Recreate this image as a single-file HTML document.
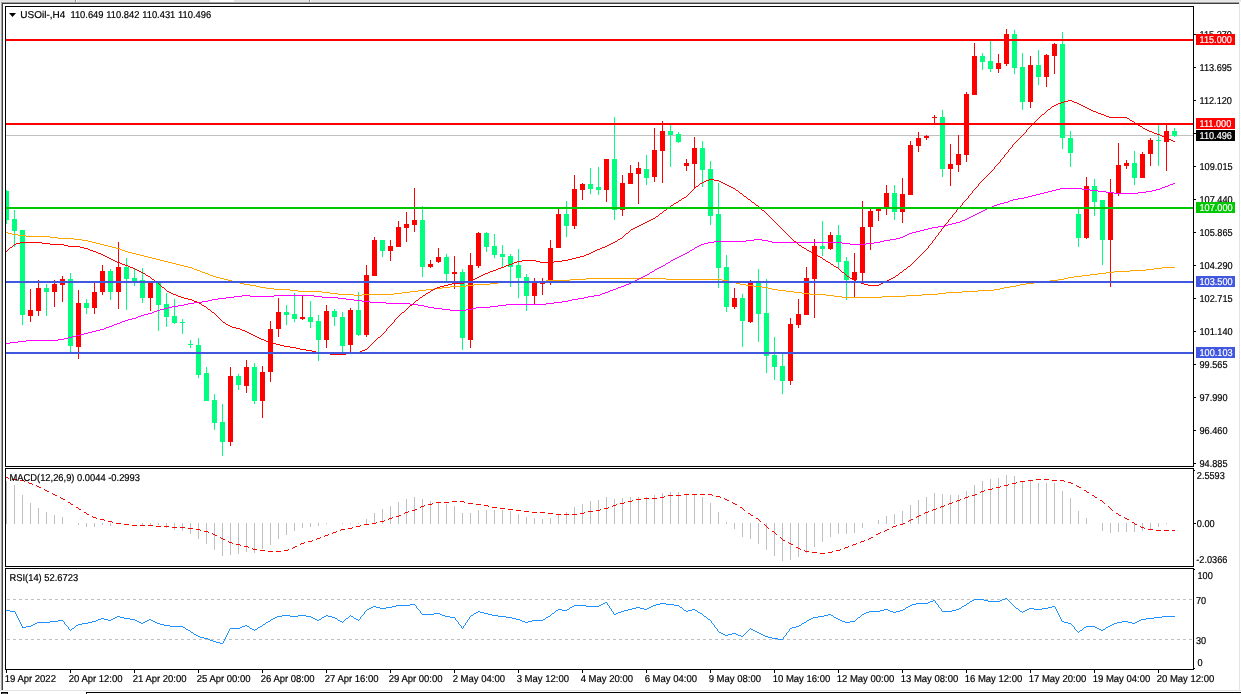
<!DOCTYPE html>
<html><head><meta charset="utf-8"><title>USOil H4</title>
<style>html,body{margin:0;padding:0;background:#fff;width:1241px;height:694px;overflow:hidden}svg{display:block}</style>
</head><body>
<svg width="1241" height="694" viewBox="0 0 1241 694" style="will-change:transform">
<rect x="0" y="0" width="1241" height="694" fill="#ffffff"/>
<rect x="0" y="0" width="1241" height="1" fill="#e3e3e3"/>
<rect x="0" y="1" width="1241" height="1" fill="#e9e9e9"/>
<rect x="210" y="0" width="24" height="1" fill="#ffffff"/>
<rect x="210" y="1" width="24" height="1" fill="#ffffff"/>
<rect x="75" y="0" width="1" height="2" fill="#909090"/>
<rect x="76" y="0" width="1" height="2" fill="#ffffff"/>
<rect x="309" y="0" width="1" height="2" fill="#909090"/>
<rect x="310" y="0" width="1" height="2" fill="#ffffff"/>
<rect x="1" y="2" width="1238" height="1" fill="#a0a0a0"/>
<rect x="2" y="3" width="1237" height="1" fill="#404040"/>
<rect x="0" y="2" width="1" height="688" fill="#f0f0f0"/>
<rect x="1" y="2" width="1" height="688" fill="#a0a0a0"/>
<rect x="2" y="3" width="1" height="687" fill="#404040"/>
<rect x="1239" y="2" width="1" height="688" fill="#e3e3e3"/>
<rect x="0" y="690" width="1241" height="1" fill="#e3e3e3"/>
<rect x="1" y="692" width="7" height="1" fill="#000000"/>
<rect x="1" y="692" width="1" height="2" fill="#000"/>
<rect x="7" y="692" width="1" height="2" fill="#000"/>
<rect x="2" y="693" width="5" height="1" fill="#606060"/>
<rect x="86" y="692" width="1155" height="1" fill="#000000"/>
<rect x="86" y="692" width="1" height="2" fill="#000"/>
<rect x="5" y="6" width="1189" height="1" fill="#000"/>
<rect x="5" y="466" width="1189" height="1" fill="#000"/>
<rect x="5" y="6" width="1" height="461" fill="#000"/>
<rect x="1193" y="6" width="1" height="461" fill="#000"/>
<rect x="5" y="468" width="1189" height="1" fill="#000"/>
<rect x="5" y="566" width="1189" height="1" fill="#000"/>
<rect x="5" y="468" width="1" height="99" fill="#000"/>
<rect x="1193" y="468" width="1" height="99" fill="#000"/>
<rect x="5" y="568" width="1189" height="1" fill="#000"/>
<rect x="5" y="669" width="1189" height="1" fill="#000"/>
<rect x="5" y="568" width="1" height="102" fill="#000"/>
<rect x="1193" y="568" width="1" height="102" fill="#000"/>
<defs><clipPath id="cm"><rect x="6" y="7" width="1187" height="459"/></clipPath><clipPath id="cd"><rect x="6" y="469" width="1187" height="97"/></clipPath><clipPath id="cr"><rect x="6" y="569" width="1187" height="100"/></clipPath></defs>
<g clip-path="url(#cm)" shape-rendering="crispEdges">
<rect x="6" y="135" width="1187" height="1" fill="#c0c0c0"/>
<rect x="6" y="190" width="1" height="34" fill="#00ff7f"/>
<rect x="4" y="191" width="5" height="29" fill="#00ff7f"/>
<rect x="14" y="210" width="1" height="37" fill="#00ff7f"/>
<rect x="12" y="219" width="5" height="12" fill="#00ff7f"/>
<rect x="22" y="230" width="1" height="95" fill="#00ff7f"/>
<rect x="20" y="230" width="5" height="85" fill="#00ff7f"/>
<rect x="30" y="289" width="1" height="33" fill="#ff0000"/>
<rect x="28" y="310" width="5" height="6" fill="#ff0000"/>
<rect x="38" y="280" width="1" height="36" fill="#ff0000"/>
<rect x="36" y="288" width="5" height="23" fill="#ff0000"/>
<rect x="46" y="284" width="1" height="32" fill="#00ff7f"/>
<rect x="44" y="288" width="5" height="4" fill="#00ff7f"/>
<rect x="54" y="280" width="1" height="27" fill="#ff0000"/>
<rect x="52" y="284" width="5" height="8" fill="#ff0000"/>
<rect x="62" y="276" width="1" height="26" fill="#ff0000"/>
<rect x="60" y="279" width="5" height="6" fill="#ff0000"/>
<rect x="70" y="273" width="1" height="79" fill="#00ff7f"/>
<rect x="68" y="279" width="5" height="67" fill="#00ff7f"/>
<rect x="78" y="290" width="1" height="69" fill="#ff0000"/>
<rect x="76" y="303" width="5" height="44" fill="#ff0000"/>
<rect x="86" y="299" width="1" height="15" fill="#00ff7f"/>
<rect x="84" y="303" width="5" height="5" fill="#00ff7f"/>
<rect x="94" y="283" width="1" height="31" fill="#ff0000"/>
<rect x="92" y="292" width="5" height="16" fill="#ff0000"/>
<rect x="102" y="265" width="1" height="30" fill="#ff0000"/>
<rect x="100" y="271" width="5" height="21" fill="#ff0000"/>
<rect x="110" y="269" width="1" height="31" fill="#00ff7f"/>
<rect x="108" y="271" width="5" height="21" fill="#00ff7f"/>
<rect x="118" y="242" width="1" height="67" fill="#ff0000"/>
<rect x="116" y="267" width="5" height="25" fill="#ff0000"/>
<rect x="126" y="258" width="1" height="52" fill="#00ff7f"/>
<rect x="124" y="267" width="5" height="12" fill="#00ff7f"/>
<rect x="134" y="268" width="1" height="18" fill="#00ff7f"/>
<rect x="132" y="278" width="5" height="3" fill="#00ff7f"/>
<rect x="142" y="268" width="1" height="35" fill="#00ff7f"/>
<rect x="140" y="280" width="5" height="18" fill="#00ff7f"/>
<rect x="150" y="283" width="1" height="28" fill="#ff0000"/>
<rect x="148" y="283" width="5" height="15" fill="#ff0000"/>
<rect x="158" y="283" width="1" height="48" fill="#00ff7f"/>
<rect x="156" y="283" width="5" height="22" fill="#00ff7f"/>
<rect x="166" y="293" width="1" height="34" fill="#00ff7f"/>
<rect x="164" y="304" width="5" height="13" fill="#00ff7f"/>
<rect x="174" y="299" width="1" height="25" fill="#00ff7f"/>
<rect x="172" y="316" width="5" height="7" fill="#00ff7f"/>
<rect x="182" y="319" width="1" height="15" fill="#00ff7f"/>
<rect x="180" y="322" width="5" height="1" fill="#00ff7f"/>
<rect x="190" y="340" width="1" height="8" fill="#00ff7f"/>
<rect x="188" y="344" width="5" height="1" fill="#00ff7f"/>
<rect x="198" y="338" width="1" height="40" fill="#00ff7f"/>
<rect x="196" y="345" width="5" height="30" fill="#00ff7f"/>
<rect x="206" y="367" width="1" height="34" fill="#00ff7f"/>
<rect x="204" y="373" width="5" height="28" fill="#00ff7f"/>
<rect x="214" y="394" width="1" height="36" fill="#00ff7f"/>
<rect x="212" y="400" width="5" height="23" fill="#00ff7f"/>
<rect x="222" y="404" width="1" height="52" fill="#00ff7f"/>
<rect x="220" y="422" width="5" height="20" fill="#00ff7f"/>
<rect x="230" y="367" width="1" height="79" fill="#ff0000"/>
<rect x="228" y="376" width="5" height="66" fill="#ff0000"/>
<rect x="238" y="374" width="1" height="16" fill="#00ff7f"/>
<rect x="236" y="376" width="5" height="9" fill="#00ff7f"/>
<rect x="246" y="360" width="1" height="33" fill="#ff0000"/>
<rect x="244" y="367" width="5" height="19" fill="#ff0000"/>
<rect x="254" y="363" width="1" height="41" fill="#00ff7f"/>
<rect x="252" y="367" width="5" height="34" fill="#00ff7f"/>
<rect x="262" y="366" width="1" height="52" fill="#ff0000"/>
<rect x="260" y="372" width="5" height="29" fill="#ff0000"/>
<rect x="270" y="321" width="1" height="61" fill="#ff0000"/>
<rect x="268" y="329" width="5" height="43" fill="#ff0000"/>
<rect x="278" y="298" width="1" height="39" fill="#ff0000"/>
<rect x="276" y="312" width="5" height="17" fill="#ff0000"/>
<rect x="286" y="305" width="1" height="20" fill="#00ff7f"/>
<rect x="284" y="312" width="5" height="3" fill="#00ff7f"/>
<rect x="294" y="293" width="1" height="29" fill="#00ff7f"/>
<rect x="292" y="314" width="5" height="5" fill="#00ff7f"/>
<rect x="302" y="296" width="1" height="24" fill="#ff0000"/>
<rect x="300" y="317" width="5" height="2" fill="#ff0000"/>
<rect x="310" y="301" width="1" height="27" fill="#00ff7f"/>
<rect x="308" y="317" width="5" height="5" fill="#00ff7f"/>
<rect x="318" y="315" width="1" height="46" fill="#00ff7f"/>
<rect x="316" y="321" width="5" height="19" fill="#00ff7f"/>
<rect x="326" y="305" width="1" height="43" fill="#ff0000"/>
<rect x="324" y="311" width="5" height="29" fill="#ff0000"/>
<rect x="334" y="309" width="1" height="17" fill="#00ff7f"/>
<rect x="332" y="311" width="5" height="6" fill="#00ff7f"/>
<rect x="342" y="312" width="1" height="42" fill="#00ff7f"/>
<rect x="340" y="317" width="5" height="29" fill="#00ff7f"/>
<rect x="350" y="308" width="1" height="44" fill="#ff0000"/>
<rect x="348" y="310" width="5" height="35" fill="#ff0000"/>
<rect x="358" y="292" width="1" height="44" fill="#00ff7f"/>
<rect x="356" y="310" width="5" height="25" fill="#00ff7f"/>
<rect x="366" y="265" width="1" height="72" fill="#ff0000"/>
<rect x="364" y="275" width="5" height="60" fill="#ff0000"/>
<rect x="374" y="237" width="1" height="39" fill="#ff0000"/>
<rect x="372" y="240" width="5" height="36" fill="#ff0000"/>
<rect x="382" y="240" width="1" height="17" fill="#00ff7f"/>
<rect x="380" y="240" width="5" height="11" fill="#00ff7f"/>
<rect x="390" y="240" width="1" height="21" fill="#ff0000"/>
<rect x="388" y="246" width="5" height="5" fill="#ff0000"/>
<rect x="398" y="221" width="1" height="26" fill="#ff0000"/>
<rect x="396" y="227" width="5" height="20" fill="#ff0000"/>
<rect x="406" y="212" width="1" height="30" fill="#ff0000"/>
<rect x="404" y="224" width="5" height="4" fill="#ff0000"/>
<rect x="414" y="188" width="1" height="44" fill="#ff0000"/>
<rect x="412" y="220" width="5" height="5" fill="#ff0000"/>
<rect x="422" y="206" width="1" height="71" fill="#00ff7f"/>
<rect x="420" y="220" width="5" height="47" fill="#00ff7f"/>
<rect x="430" y="260" width="1" height="8" fill="#ff0000"/>
<rect x="428" y="264" width="5" height="3" fill="#ff0000"/>
<rect x="438" y="248" width="1" height="15" fill="#ff0000"/>
<rect x="436" y="257" width="5" height="5" fill="#ff0000"/>
<rect x="446" y="254" width="1" height="27" fill="#00ff7f"/>
<rect x="444" y="257" width="5" height="17" fill="#00ff7f"/>
<rect x="454" y="256" width="1" height="33" fill="#ff0000"/>
<rect x="452" y="272" width="5" height="2" fill="#ff0000"/>
<rect x="462" y="269" width="1" height="81" fill="#00ff7f"/>
<rect x="460" y="272" width="5" height="66" fill="#00ff7f"/>
<rect x="470" y="253" width="1" height="95" fill="#ff0000"/>
<rect x="468" y="265" width="5" height="75" fill="#ff0000"/>
<rect x="478" y="232" width="1" height="36" fill="#ff0000"/>
<rect x="476" y="233" width="5" height="33" fill="#ff0000"/>
<rect x="486" y="232" width="1" height="20" fill="#00ff7f"/>
<rect x="484" y="233" width="5" height="14" fill="#00ff7f"/>
<rect x="494" y="234" width="1" height="24" fill="#00ff7f"/>
<rect x="492" y="246" width="5" height="9" fill="#00ff7f"/>
<rect x="502" y="245" width="1" height="23" fill="#00ff7f"/>
<rect x="500" y="254" width="5" height="3" fill="#00ff7f"/>
<rect x="510" y="254" width="1" height="33" fill="#00ff7f"/>
<rect x="508" y="256" width="5" height="11" fill="#00ff7f"/>
<rect x="518" y="249" width="1" height="49" fill="#00ff7f"/>
<rect x="516" y="265" width="5" height="13" fill="#00ff7f"/>
<rect x="526" y="274" width="1" height="37" fill="#00ff7f"/>
<rect x="524" y="277" width="5" height="19" fill="#00ff7f"/>
<rect x="534" y="278" width="1" height="26" fill="#ff0000"/>
<rect x="532" y="282" width="5" height="14" fill="#ff0000"/>
<rect x="542" y="278" width="1" height="17" fill="#ff0000"/>
<rect x="540" y="283" width="5" height="1" fill="#ff0000"/>
<rect x="550" y="240" width="1" height="45" fill="#ff0000"/>
<rect x="548" y="248" width="5" height="33" fill="#ff0000"/>
<rect x="558" y="209" width="1" height="39" fill="#ff0000"/>
<rect x="556" y="214" width="5" height="34" fill="#ff0000"/>
<rect x="566" y="201" width="1" height="36" fill="#00ff7f"/>
<rect x="564" y="214" width="5" height="12" fill="#00ff7f"/>
<rect x="574" y="175" width="1" height="54" fill="#ff0000"/>
<rect x="572" y="189" width="5" height="37" fill="#ff0000"/>
<rect x="582" y="183" width="1" height="17" fill="#ff0000"/>
<rect x="580" y="184" width="5" height="6" fill="#ff0000"/>
<rect x="590" y="168" width="1" height="26" fill="#00ff7f"/>
<rect x="588" y="184" width="5" height="5" fill="#00ff7f"/>
<rect x="598" y="167" width="1" height="28" fill="#00ff7f"/>
<rect x="596" y="187" width="5" height="3" fill="#00ff7f"/>
<rect x="606" y="159" width="1" height="43" fill="#ff0000"/>
<rect x="604" y="159" width="5" height="31" fill="#ff0000"/>
<rect x="614" y="117" width="1" height="103" fill="#00ff7f"/>
<rect x="612" y="159" width="5" height="51" fill="#00ff7f"/>
<rect x="622" y="175" width="1" height="41" fill="#ff0000"/>
<rect x="620" y="183" width="5" height="27" fill="#ff0000"/>
<rect x="630" y="165" width="1" height="19" fill="#ff0000"/>
<rect x="628" y="173" width="5" height="11" fill="#ff0000"/>
<rect x="638" y="162" width="1" height="42" fill="#ff0000"/>
<rect x="636" y="168" width="5" height="6" fill="#ff0000"/>
<rect x="646" y="155" width="1" height="30" fill="#00ff7f"/>
<rect x="644" y="169" width="5" height="9" fill="#00ff7f"/>
<rect x="654" y="128" width="1" height="54" fill="#ff0000"/>
<rect x="652" y="150" width="5" height="27" fill="#ff0000"/>
<rect x="662" y="121" width="1" height="62" fill="#ff0000"/>
<rect x="660" y="131" width="5" height="20" fill="#ff0000"/>
<rect x="670" y="125" width="1" height="42" fill="#00ff7f"/>
<rect x="668" y="131" width="5" height="4" fill="#00ff7f"/>
<rect x="678" y="132" width="1" height="11" fill="#00ff7f"/>
<rect x="676" y="134" width="5" height="8" fill="#00ff7f"/>
<rect x="686" y="159" width="1" height="12" fill="#ff0000"/>
<rect x="684" y="163" width="5" height="3" fill="#ff0000"/>
<rect x="694" y="137" width="1" height="52" fill="#ff0000"/>
<rect x="692" y="148" width="5" height="16" fill="#ff0000"/>
<rect x="702" y="141" width="1" height="46" fill="#00ff7f"/>
<rect x="700" y="148" width="5" height="22" fill="#00ff7f"/>
<rect x="710" y="161" width="1" height="64" fill="#00ff7f"/>
<rect x="708" y="169" width="5" height="47" fill="#00ff7f"/>
<rect x="718" y="183" width="1" height="105" fill="#00ff7f"/>
<rect x="716" y="214" width="5" height="54" fill="#00ff7f"/>
<rect x="726" y="255" width="1" height="57" fill="#00ff7f"/>
<rect x="724" y="267" width="5" height="40" fill="#00ff7f"/>
<rect x="734" y="288" width="1" height="21" fill="#ff0000"/>
<rect x="732" y="298" width="5" height="9" fill="#ff0000"/>
<rect x="742" y="294" width="1" height="53" fill="#00ff7f"/>
<rect x="740" y="298" width="5" height="23" fill="#00ff7f"/>
<rect x="750" y="280" width="1" height="43" fill="#ff0000"/>
<rect x="748" y="282" width="5" height="40" fill="#ff0000"/>
<rect x="758" y="269" width="1" height="73" fill="#00ff7f"/>
<rect x="756" y="282" width="5" height="32" fill="#00ff7f"/>
<rect x="766" y="279" width="1" height="94" fill="#00ff7f"/>
<rect x="764" y="313" width="5" height="43" fill="#00ff7f"/>
<rect x="774" y="337" width="1" height="43" fill="#00ff7f"/>
<rect x="772" y="355" width="5" height="12" fill="#00ff7f"/>
<rect x="782" y="354" width="1" height="40" fill="#00ff7f"/>
<rect x="780" y="366" width="5" height="15" fill="#00ff7f"/>
<rect x="790" y="318" width="1" height="67" fill="#ff0000"/>
<rect x="788" y="324" width="5" height="57" fill="#ff0000"/>
<rect x="798" y="299" width="1" height="29" fill="#ff0000"/>
<rect x="796" y="314" width="5" height="11" fill="#ff0000"/>
<rect x="806" y="267" width="1" height="48" fill="#ff0000"/>
<rect x="804" y="278" width="5" height="37" fill="#ff0000"/>
<rect x="814" y="239" width="1" height="79" fill="#ff0000"/>
<rect x="812" y="246" width="5" height="33" fill="#ff0000"/>
<rect x="822" y="221" width="1" height="35" fill="#00ff7f"/>
<rect x="820" y="246" width="5" height="3" fill="#00ff7f"/>
<rect x="830" y="232" width="1" height="18" fill="#ff0000"/>
<rect x="828" y="235" width="5" height="14" fill="#ff0000"/>
<rect x="838" y="225" width="1" height="43" fill="#00ff7f"/>
<rect x="836" y="235" width="5" height="27" fill="#00ff7f"/>
<rect x="846" y="257" width="1" height="43" fill="#00ff7f"/>
<rect x="844" y="261" width="5" height="19" fill="#00ff7f"/>
<rect x="854" y="253" width="1" height="44" fill="#ff0000"/>
<rect x="852" y="272" width="5" height="8" fill="#ff0000"/>
<rect x="862" y="201" width="1" height="80" fill="#ff0000"/>
<rect x="860" y="227" width="5" height="46" fill="#ff0000"/>
<rect x="870" y="209" width="1" height="41" fill="#ff0000"/>
<rect x="868" y="211" width="5" height="16" fill="#ff0000"/>
<rect x="878" y="209" width="1" height="12" fill="#ff0000"/>
<rect x="876" y="209" width="5" height="2" fill="#ff0000"/>
<rect x="886" y="185" width="1" height="30" fill="#ff0000"/>
<rect x="884" y="193" width="5" height="14" fill="#ff0000"/>
<rect x="894" y="185" width="1" height="35" fill="#00ff7f"/>
<rect x="892" y="193" width="5" height="19" fill="#00ff7f"/>
<rect x="902" y="178" width="1" height="45" fill="#ff0000"/>
<rect x="900" y="194" width="5" height="18" fill="#ff0000"/>
<rect x="910" y="141" width="1" height="54" fill="#ff0000"/>
<rect x="908" y="145" width="5" height="50" fill="#ff0000"/>
<rect x="918" y="132" width="1" height="20" fill="#ff0000"/>
<rect x="916" y="138" width="5" height="8" fill="#ff0000"/>
<rect x="926" y="135" width="1" height="5" fill="#ff0000"/>
<rect x="924" y="136" width="5" height="2" fill="#ff0000"/>
<rect x="934" y="115" width="1" height="8" fill="#ff0000"/>
<rect x="932" y="117" width="5" height="1" fill="#ff0000"/>
<rect x="942" y="110" width="1" height="67" fill="#00ff7f"/>
<rect x="940" y="117" width="5" height="52" fill="#00ff7f"/>
<rect x="950" y="144" width="1" height="42" fill="#ff0000"/>
<rect x="948" y="164" width="5" height="5" fill="#ff0000"/>
<rect x="958" y="135" width="1" height="37" fill="#ff0000"/>
<rect x="956" y="154" width="5" height="11" fill="#ff0000"/>
<rect x="966" y="92" width="1" height="70" fill="#ff0000"/>
<rect x="964" y="94" width="5" height="61" fill="#ff0000"/>
<rect x="974" y="43" width="1" height="52" fill="#ff0000"/>
<rect x="972" y="56" width="5" height="39" fill="#ff0000"/>
<rect x="982" y="53" width="1" height="17" fill="#00ff7f"/>
<rect x="980" y="56" width="5" height="6" fill="#00ff7f"/>
<rect x="990" y="41" width="1" height="31" fill="#00ff7f"/>
<rect x="988" y="61" width="5" height="8" fill="#00ff7f"/>
<rect x="998" y="54" width="1" height="19" fill="#ff0000"/>
<rect x="996" y="63" width="5" height="6" fill="#ff0000"/>
<rect x="1006" y="29" width="1" height="37" fill="#ff0000"/>
<rect x="1004" y="34" width="5" height="30" fill="#ff0000"/>
<rect x="1014" y="30" width="1" height="44" fill="#00ff7f"/>
<rect x="1012" y="34" width="5" height="34" fill="#00ff7f"/>
<rect x="1022" y="53" width="1" height="57" fill="#00ff7f"/>
<rect x="1020" y="67" width="5" height="35" fill="#00ff7f"/>
<rect x="1030" y="56" width="1" height="52" fill="#ff0000"/>
<rect x="1028" y="65" width="5" height="37" fill="#ff0000"/>
<rect x="1038" y="50" width="1" height="35" fill="#00ff7f"/>
<rect x="1036" y="65" width="5" height="12" fill="#00ff7f"/>
<rect x="1046" y="54" width="1" height="33" fill="#ff0000"/>
<rect x="1044" y="55" width="5" height="22" fill="#ff0000"/>
<rect x="1054" y="43" width="1" height="31" fill="#ff0000"/>
<rect x="1052" y="44" width="5" height="12" fill="#ff0000"/>
<rect x="1062" y="32" width="1" height="117" fill="#00ff7f"/>
<rect x="1060" y="44" width="5" height="94" fill="#00ff7f"/>
<rect x="1070" y="131" width="1" height="36" fill="#00ff7f"/>
<rect x="1068" y="138" width="5" height="15" fill="#00ff7f"/>
<rect x="1078" y="209" width="1" height="38" fill="#00ff7f"/>
<rect x="1076" y="214" width="5" height="24" fill="#00ff7f"/>
<rect x="1086" y="177" width="1" height="62" fill="#ff0000"/>
<rect x="1084" y="186" width="5" height="52" fill="#ff0000"/>
<rect x="1094" y="179" width="1" height="37" fill="#00ff7f"/>
<rect x="1092" y="186" width="5" height="16" fill="#00ff7f"/>
<rect x="1102" y="200" width="1" height="65" fill="#00ff7f"/>
<rect x="1100" y="200" width="5" height="40" fill="#00ff7f"/>
<rect x="1110" y="179" width="1" height="108" fill="#ff0000"/>
<rect x="1108" y="193" width="5" height="47" fill="#ff0000"/>
<rect x="1118" y="143" width="1" height="53" fill="#ff0000"/>
<rect x="1116" y="165" width="5" height="29" fill="#ff0000"/>
<rect x="1126" y="160" width="1" height="9" fill="#ff0000"/>
<rect x="1124" y="163" width="5" height="3" fill="#ff0000"/>
<rect x="1134" y="151" width="1" height="34" fill="#00ff7f"/>
<rect x="1132" y="163" width="5" height="15" fill="#00ff7f"/>
<rect x="1142" y="152" width="1" height="26" fill="#ff0000"/>
<rect x="1140" y="154" width="5" height="24" fill="#ff0000"/>
<rect x="1150" y="138" width="1" height="28" fill="#ff0000"/>
<rect x="1148" y="140" width="5" height="14" fill="#ff0000"/>
<rect x="1158" y="125" width="1" height="41" fill="#00ff7f"/>
<rect x="1156" y="140" width="5" height="1" fill="#00ff7f"/>
<rect x="1166" y="125" width="1" height="46" fill="#ff0000"/>
<rect x="1164" y="131" width="5" height="11" fill="#ff0000"/>
<rect x="1174" y="128" width="1" height="9" fill="#00ff7f"/>
<rect x="1172" y="131" width="5" height="5" fill="#00ff7f"/>
<path d="M6 232h2v1h-2zM8 233h4v1h-4zM12 234h6v1h-6zM18 235h8v1h-8zM26 236h24v1h-24zM50 237h8v1h-8zM58 238h16v1h-16zM74 239h8v1h-8zM82 240h6v1h-6zM88 241h4v1h-4zM92 242h4v1h-4zM96 243h4v1h-4zM100 244h4v1h-4zM104 245h4v1h-4zM108 246h4v1h-4zM112 247h4v1h-4zM116 248h4v1h-4zM120 249h2v1h-2zM122 250h3v1h-3zM125 251h3v1h-3zM128 252h4v1h-4zM132 253h4v1h-4zM136 254h4v1h-4zM140 255h4v1h-4zM144 256h4v1h-4zM148 257h4v1h-4zM152 258h4v1h-4zM156 259h4v1h-4zM160 260h4v1h-4zM164 261h4v1h-4zM168 262h4v1h-4zM172 263h4v1h-4zM176 264h4v1h-4zM180 265h4v1h-4zM184 266h4v1h-4zM188 267h4v1h-4zM1162 267h13v1h-13zM192 268h2v1h-2zM1154 268h8v1h-8zM194 269h3v1h-3zM1146 269h8v1h-8zM197 270h3v1h-3zM1130 270h16v1h-16zM200 271h2v1h-2zM1114 271h16v1h-16zM202 272h3v1h-3zM1106 272h8v1h-8zM205 273h3v1h-3zM1098 273h8v1h-8zM208 274h2v1h-2zM1090 274h8v1h-8zM210 275h3v1h-3zM1082 275h8v1h-8zM213 276h3v1h-3zM1074 276h8v1h-8zM216 277h4v1h-4zM1068 277h6v1h-6zM220 278h4v1h-4zM586 278h80v1h-80zM1064 278h4v1h-4zM224 279h4v1h-4zM570 279h16v1h-16zM666 279h56v1h-56zM1058 279h6v1h-6zM228 280h4v1h-4zM546 280h24v1h-24zM722 280h6v1h-6zM1050 280h8v1h-8zM232 281h4v1h-4zM514 281h32v1h-32zM728 281h4v1h-4zM1042 281h8v1h-8zM236 282h4v1h-4zM498 282h16v1h-16zM732 282h4v1h-4zM1034 282h8v1h-8zM240 283h4v1h-4zM490 283h8v1h-8zM736 283h4v1h-4zM1026 283h8v1h-8zM244 284h6v1h-6zM474 284h16v1h-16zM740 284h6v1h-6zM1020 284h6v1h-6zM250 285h6v1h-6zM466 285h8v1h-8zM746 285h8v1h-8zM1016 285h4v1h-4zM256 286h4v1h-4zM450 286h16v1h-16zM754 286h8v1h-8zM1010 286h6v1h-6zM260 287h6v1h-6zM442 287h8v1h-8zM762 287h6v1h-6zM1004 287h6v1h-6zM266 288h8v1h-8zM434 288h8v1h-8zM768 288h4v1h-4zM1000 288h4v1h-4zM274 289h16v1h-16zM426 289h8v1h-8zM772 289h6v1h-6zM994 289h6v1h-6zM290 290h8v1h-8zM418 290h8v1h-8zM778 290h8v1h-8zM978 290h16v1h-16zM298 291h24v1h-24zM410 291h8v1h-8zM786 291h8v1h-8zM962 291h16v1h-16zM322 292h8v1h-8zM402 292h8v1h-8zM794 292h8v1h-8zM946 292h16v1h-16zM330 293h8v1h-8zM394 293h8v1h-8zM802 293h8v1h-8zM938 293h8v1h-8zM338 294h16v1h-16zM362 294h32v1h-32zM810 294h16v1h-16zM922 294h16v1h-16zM354 295h8v1h-8zM826 295h8v1h-8zM906 295h16v1h-16zM834 296h8v1h-8zM882 296h24v1h-24zM842 297h40v1h-40z" fill="#ffa500"/>
<path d="M1173 183h2v1h-2zM1170 184h3v1h-3zM1168 185h2v1h-2zM1165 186h3v1h-3zM1162 187h3v1h-3zM1060 188h22v1h-22zM1160 188h2v1h-2zM1056 189h4v1h-4zM1082 189h8v1h-8zM1156 189h4v1h-4zM1052 190h4v1h-4zM1090 190h8v1h-8zM1152 190h4v1h-4zM1048 191h4v1h-4zM1098 191h8v1h-8zM1146 191h6v1h-6zM1044 192h4v1h-4zM1106 192h8v1h-8zM1138 192h8v1h-8zM1040 193h4v1h-4zM1114 193h24v1h-24zM1036 194h4v1h-4zM1032 195h4v1h-4zM1028 196h4v1h-4zM1024 197h4v1h-4zM1018 198h6v1h-6zM1013 199h5v1h-5zM1010 200h3v1h-3zM1008 201h2v1h-2zM1004 202h4v1h-4zM1000 203h4v1h-4zM997 204h3v1h-3zM994 205h3v1h-3zM992 206h2v1h-2zM989 207h3v1h-3zM987 208h2v1h-2zM985 209h2v1h-2zM983 210h2v1h-2zM981 211h2v1h-2zM979 212h2v1h-2zM977 213h2v1h-2zM975 214h2v1h-2zM973 215h2v1h-2zM971 216h2v1h-2zM969 217h2v1h-2zM967 218h2v1h-2zM965 219h2v1h-2zM962 220h3v1h-3zM960 221h2v1h-2zM956 222h4v1h-4zM952 223h4v1h-4zM948 224h4v1h-4zM944 225h4v1h-4zM938 226h6v1h-6zM932 227h6v1h-6zM928 228h4v1h-4zM924 229h4v1h-4zM920 230h4v1h-4zM916 231h4v1h-4zM912 232h4v1h-4zM909 233h3v1h-3zM907 234h2v1h-2zM905 235h2v1h-2zM903 236h2v1h-2zM900 237h3v1h-3zM896 238h4v1h-4zM754 239h8v1h-8zM890 239h6v1h-6zM746 240h8v1h-8zM762 240h6v1h-6zM884 240h6v1h-6zM714 241h32v1h-32zM768 241h4v1h-4zM880 241h4v1h-4zM708 242h6v1h-6zM772 242h70v1h-70zM874 242h6v1h-6zM704 243h4v1h-4zM842 243h8v1h-8zM866 243h8v1h-8zM701 244h3v1h-3zM850 244h16v1h-16zM699 245h2v1h-2zM697 246h2v1h-2zM695 247h2v1h-2zM694 248h1v1h-1zM692 249h2v1h-2zM690 250h2v1h-2zM689 251h1v1h-1zM687 252h2v1h-2zM685 253h2v1h-2zM683 254h2v1h-2zM681 255h2v1h-2zM679 256h2v1h-2zM677 257h2v1h-2zM675 258h2v1h-2zM673 259h2v1h-2zM671 260h2v1h-2zM670 261h1v1h-1zM668 262h2v1h-2zM666 263h2v1h-2zM665 264h1v1h-1zM663 265h2v1h-2zM661 266h2v1h-2zM659 267h2v1h-2zM657 268h2v1h-2zM655 269h2v1h-2zM654 270h1v1h-1zM652 271h2v1h-2zM650 272h2v1h-2zM649 273h1v1h-1zM647 274h2v1h-2zM645 275h2v1h-2zM643 276h2v1h-2zM641 277h2v1h-2zM639 278h2v1h-2zM637 279h2v1h-2zM635 280h2v1h-2zM633 281h2v1h-2zM631 282h2v1h-2zM629 283h2v1h-2zM626 284h3v1h-3zM624 285h2v1h-2zM621 286h3v1h-3zM618 287h3v1h-3zM616 288h2v1h-2zM613 289h3v1h-3zM610 290h3v1h-3zM608 291h2v1h-2zM605 292h3v1h-3zM602 293h3v1h-3zM600 294h2v1h-2zM242 295h8v1h-8zM274 295h40v1h-40zM594 295h6v1h-6zM234 296h8v1h-8zM250 296h24v1h-24zM314 296h8v1h-8zM588 296h6v1h-6zM226 297h8v1h-8zM322 297h16v1h-16zM584 297h4v1h-4zM218 298h8v1h-8zM338 298h8v1h-8zM578 298h6v1h-6zM212 299h6v1h-6zM346 299h8v1h-8zM572 299h6v1h-6zM208 300h4v1h-4zM354 300h8v1h-8zM568 300h4v1h-4zM202 301h6v1h-6zM362 301h8v1h-8zM562 301h6v1h-6zM194 302h8v1h-8zM370 302h16v1h-16zM554 302h8v1h-8zM188 303h6v1h-6zM386 303h24v1h-24zM546 303h8v1h-8zM184 304h4v1h-4zM410 304h8v1h-8zM506 304h40v1h-40zM178 305h6v1h-6zM418 305h6v1h-6zM498 305h8v1h-8zM172 306h6v1h-6zM424 306h4v1h-4zM490 306h8v1h-8zM168 307h4v1h-4zM428 307h6v1h-6zM476 307h14v1h-14zM164 308h4v1h-4zM434 308h8v1h-8zM472 308h4v1h-4zM160 309h4v1h-4zM442 309h8v1h-8zM466 309h6v1h-6zM157 310h3v1h-3zM450 310h16v1h-16zM154 311h3v1h-3zM152 312h2v1h-2zM148 313h4v1h-4zM144 314h4v1h-4zM141 315h3v1h-3zM138 316h3v1h-3zM136 317h2v1h-2zM132 318h4v1h-4zM128 319h4v1h-4zM125 320h3v1h-3zM122 321h3v1h-3zM120 322h2v1h-2zM117 323h3v1h-3zM114 324h3v1h-3zM112 325h2v1h-2zM109 326h3v1h-3zM106 327h3v1h-3zM104 328h2v1h-2zM100 329h4v1h-4zM96 330h4v1h-4zM92 331h4v1h-4zM88 332h4v1h-4zM84 333h4v1h-4zM80 334h4v1h-4zM76 335h4v1h-4zM72 336h4v1h-4zM68 337h4v1h-4zM64 338h4v1h-4zM58 339h6v1h-6zM26 340h32v1h-32zM18 341h8v1h-8zM10 342h8v1h-8zM6 343h4v1h-4z" fill="#ff00ff"/>
<path d="M1068 100h4v1h-4zM1064 101h4v1h-4zM1072 101h2v1h-2zM1061 102h3v1h-3zM1074 102h3v1h-3zM1058 103h3v1h-3zM1077 103h2v1h-2zM1056 104h2v1h-2zM1079 104h2v1h-2zM1054 105h2v1h-2zM1081 105h2v1h-2zM1052 106h2v1h-2zM1083 106h2v1h-2zM1051 107h1v1h-1zM1085 107h2v1h-2zM1050 108h1v1h-1zM1087 108h2v1h-2zM1048 109h2v1h-2zM1089 109h2v1h-2zM1047 110h1v1h-1zM1091 110h2v1h-2zM1046 111h1v1h-1zM1093 111h3v1h-3zM1045 112h1v1h-1zM1096 112h2v1h-2zM1044 113h1v1h-1zM1098 113h3v1h-3zM1042 114h2v1h-2zM1101 114h3v1h-3zM1041 115h1v1h-1zM1104 115h2v1h-2zM1040 116h1v1h-1zM1106 116h3v1h-3zM1039 117h1v1h-1zM1109 117h18v1h-18zM1038 118h1v1h-1zM1127 118h2v1h-2zM1037 119h1v1h-1zM1129 119h1v1h-1zM1036 120h1v1h-1zM1130 120h2v1h-2zM1035 121h1v1h-1zM1132 121h2v1h-2zM1034 122h1v1h-1zM1134 122h1v1h-1zM1033 123h1v1h-1zM1135 123h2v1h-2zM1032 124h1v1h-1zM1137 124h1v1h-1zM1031 125h1v1h-1zM1138 125h2v1h-2zM1030 126h1v1h-1zM1140 126h2v1h-2zM1029 127h1v1h-1zM1142 127h1v1h-1zM1028 128h1v1h-1zM1143 128h2v1h-2zM1027 129h1v1h-1zM1145 129h2v1h-2zM1026 130h1v1h-1zM1147 130h2v1h-2zM1026 131h1v1h-1zM1149 131h3v1h-3zM1025 132h1v1h-1zM1152 132h2v1h-2zM1024 133h1v1h-1zM1154 133h3v1h-3zM1023 134h1v1h-1zM1157 134h3v1h-3zM1022 135h1v1h-1zM1160 135h2v1h-2zM1021 136h1v1h-1zM1162 136h3v1h-3zM1020 137h1v1h-1zM1165 137h2v1h-2zM1019 138h1v1h-1zM1167 138h2v1h-2zM1018 139h1v1h-1zM1169 139h2v1h-2zM1017 140h1v1h-1zM1171 140h2v1h-2zM1016 141h1v1h-1zM1173 141h2v1h-2zM1015 142h1v1h-1zM1014 143h1v1h-1zM1013 144h1v1h-1zM1012 145h1v1h-1zM1012 146h1v1h-1zM1011 147h1v1h-1zM1010 148h1v1h-1zM1009 149h1v1h-1zM1008 150h1v1h-1zM1008 151h1v1h-1zM1007 152h1v1h-1zM1006 153h1v1h-1zM1005 154h1v1h-1zM1004 155h1v1h-1zM1004 156h1v1h-1zM1003 157h1v1h-1zM1002 158h1v1h-1zM1001 159h1v1h-1zM1000 160h1v1h-1zM1000 161h1v1h-1zM999 162h1v1h-1zM998 163h1v1h-1zM997 164h1v1h-1zM996 165h1v1h-1zM995 166h1v1h-1zM994 167h1v1h-1zM994 168h1v1h-1zM993 169h1v1h-1zM992 170h1v1h-1zM991 171h1v1h-1zM990 172h1v1h-1zM989 173h1v1h-1zM988 174h1v1h-1zM987 175h1v1h-1zM986 176h1v1h-1zM985 177h1v1h-1zM984 178h1v1h-1zM709 179h5v1h-5zM983 179h1v1h-1zM706 180h3v1h-3zM714 180h5v1h-5zM982 180h1v1h-1zM704 181h2v1h-2zM719 181h2v1h-2zM981 181h1v1h-1zM702 182h2v1h-2zM721 182h2v1h-2zM980 182h1v1h-1zM700 183h2v1h-2zM723 183h2v1h-2zM979 183h1v1h-1zM699 184h1v1h-1zM725 184h2v1h-2zM978 184h1v1h-1zM698 185h1v1h-1zM727 185h2v1h-2zM978 185h1v1h-1zM696 186h2v1h-2zM729 186h2v1h-2zM977 186h1v1h-1zM695 187h1v1h-1zM731 187h2v1h-2zM976 187h1v1h-1zM694 188h1v1h-1zM733 188h2v1h-2zM975 188h1v1h-1zM693 189h1v1h-1zM735 189h1v1h-1zM974 189h1v1h-1zM692 190h1v1h-1zM736 190h2v1h-2zM973 190h1v1h-1zM691 191h1v1h-1zM738 191h1v1h-1zM972 191h1v1h-1zM690 192h1v1h-1zM739 192h1v1h-1zM972 192h1v1h-1zM689 193h1v1h-1zM740 193h2v1h-2zM971 193h1v1h-1zM688 194h1v1h-1zM742 194h1v1h-1zM970 194h1v1h-1zM687 195h1v1h-1zM743 195h1v1h-1zM969 195h1v1h-1zM686 196h1v1h-1zM744 196h2v1h-2zM968 196h1v1h-1zM684 197h2v1h-2zM746 197h1v1h-1zM968 197h1v1h-1zM682 198h2v1h-2zM747 198h1v1h-1zM967 198h1v1h-1zM681 199h1v1h-1zM748 199h2v1h-2zM966 199h1v1h-1zM679 200h2v1h-2zM750 200h1v1h-1zM965 200h1v1h-1zM678 201h1v1h-1zM751 201h1v1h-1zM964 201h1v1h-1zM676 202h2v1h-2zM752 202h2v1h-2zM963 202h1v1h-1zM674 203h2v1h-2zM754 203h1v1h-1zM962 203h1v1h-1zM673 204h1v1h-1zM755 204h1v1h-1zM962 204h1v1h-1zM671 205h2v1h-2zM756 205h2v1h-2zM961 205h1v1h-1zM670 206h1v1h-1zM758 206h1v1h-1zM960 206h1v1h-1zM668 207h2v1h-2zM759 207h1v1h-1zM959 207h1v1h-1zM667 208h1v1h-1zM760 208h1v1h-1zM958 208h1v1h-1zM666 209h1v1h-1zM761 209h1v1h-1zM957 209h1v1h-1zM664 210h2v1h-2zM762 210h2v1h-2zM956 210h1v1h-1zM663 211h1v1h-1zM764 211h1v1h-1zM956 211h1v1h-1zM662 212h1v1h-1zM765 212h1v1h-1zM955 212h1v1h-1zM660 213h2v1h-2zM766 213h1v1h-1zM954 213h1v1h-1zM659 214h1v1h-1zM767 214h1v1h-1zM953 214h1v1h-1zM658 215h1v1h-1zM768 215h1v1h-1zM952 215h1v1h-1zM656 216h2v1h-2zM769 216h1v1h-1zM952 216h1v1h-1zM655 217h1v1h-1zM770 217h1v1h-1zM951 217h1v1h-1zM653 218h2v1h-2zM771 218h1v1h-1zM950 218h1v1h-1zM651 219h2v1h-2zM772 219h1v1h-1zM949 219h1v1h-1zM649 220h2v1h-2zM773 220h1v1h-1zM948 220h1v1h-1zM647 221h2v1h-2zM774 221h1v1h-1zM948 221h1v1h-1zM645 222h2v1h-2zM775 222h1v1h-1zM947 222h1v1h-1zM643 223h2v1h-2zM776 223h1v1h-1zM946 223h1v1h-1zM641 224h2v1h-2zM777 224h1v1h-1zM945 224h1v1h-1zM639 225h2v1h-2zM778 225h1v1h-1zM944 225h1v1h-1zM637 226h2v1h-2zM779 226h1v1h-1zM944 226h1v1h-1zM635 227h2v1h-2zM780 227h1v1h-1zM943 227h1v1h-1zM633 228h2v1h-2zM781 228h1v1h-1zM942 228h1v1h-1zM631 229h2v1h-2zM782 229h1v1h-1zM941 229h1v1h-1zM630 230h1v1h-1zM783 230h1v1h-1zM941 230h1v1h-1zM629 231h1v1h-1zM784 231h1v1h-1zM940 231h1v1h-1zM628 232h1v1h-1zM785 232h1v1h-1zM939 232h1v1h-1zM626 233h2v1h-2zM786 233h1v1h-1zM938 233h1v1h-1zM625 234h1v1h-1zM787 234h1v1h-1zM938 234h1v1h-1zM624 235h1v1h-1zM788 235h1v1h-1zM937 235h1v1h-1zM623 236h1v1h-1zM789 236h1v1h-1zM936 236h1v1h-1zM622 237h1v1h-1zM790 237h1v1h-1zM935 237h1v1h-1zM620 238h2v1h-2zM791 238h1v1h-1zM935 238h1v1h-1zM618 239h2v1h-2zM792 239h1v1h-1zM934 239h1v1h-1zM617 240h1v1h-1zM793 240h1v1h-1zM933 240h1v1h-1zM615 241h2v1h-2zM794 241h2v1h-2zM932 241h1v1h-1zM20 242h22v1h-22zM613 242h2v1h-2zM796 242h1v1h-1zM932 242h1v1h-1zM16 243h4v1h-4zM42 243h8v1h-8zM611 243h2v1h-2zM797 243h1v1h-1zM931 243h1v1h-1zM14 244h2v1h-2zM50 244h14v1h-14zM609 244h2v1h-2zM798 244h1v1h-1zM930 244h1v1h-1zM13 245h1v1h-1zM64 245h4v1h-4zM607 245h2v1h-2zM799 245h2v1h-2zM929 245h1v1h-1zM12 246h1v1h-1zM68 246h12v1h-12zM605 246h2v1h-2zM801 246h1v1h-1zM928 246h1v1h-1zM10 247h2v1h-2zM80 247h4v1h-4zM602 247h3v1h-3zM802 247h2v1h-2zM928 247h1v1h-1zM9 248h1v1h-1zM84 248h4v1h-4zM600 248h2v1h-2zM804 248h2v1h-2zM927 248h1v1h-1zM8 249h1v1h-1zM88 249h2v1h-2zM597 249h3v1h-3zM806 249h1v1h-1zM926 249h1v1h-1zM7 250h1v1h-1zM90 250h3v1h-3zM595 250h2v1h-2zM807 250h2v1h-2zM925 250h1v1h-1zM6 251h1v1h-1zM93 251h3v1h-3zM593 251h2v1h-2zM809 251h2v1h-2zM924 251h1v1h-1zM96 252h2v1h-2zM591 252h2v1h-2zM811 252h2v1h-2zM923 252h1v1h-1zM98 253h3v1h-3zM589 253h2v1h-2zM813 253h2v1h-2zM922 253h1v1h-1zM101 254h2v1h-2zM586 254h3v1h-3zM815 254h2v1h-2zM921 254h1v1h-1zM103 255h2v1h-2zM584 255h2v1h-2zM817 255h1v1h-1zM920 255h1v1h-1zM105 256h2v1h-2zM580 256h4v1h-4zM818 256h2v1h-2zM919 256h1v1h-1zM107 257h2v1h-2zM576 257h4v1h-4zM820 257h2v1h-2zM918 257h1v1h-1zM109 258h2v1h-2zM572 258h4v1h-4zM822 258h1v1h-1zM917 258h1v1h-1zM111 259h2v1h-2zM568 259h4v1h-4zM823 259h2v1h-2zM916 259h1v1h-1zM113 260h2v1h-2zM522 260h14v1h-14zM562 260h6v1h-6zM825 260h1v1h-1zM915 260h1v1h-1zM115 261h2v1h-2zM517 261h5v1h-5zM536 261h4v1h-4zM554 261h8v1h-8zM826 261h2v1h-2zM914 261h1v1h-1zM117 262h3v1h-3zM514 262h3v1h-3zM540 262h14v1h-14zM828 262h2v1h-2zM913 262h1v1h-1zM120 263h2v1h-2zM512 263h2v1h-2zM830 263h1v1h-1zM912 263h1v1h-1zM122 264h3v1h-3zM509 264h3v1h-3zM831 264h2v1h-2zM911 264h1v1h-1zM125 265h3v1h-3zM506 265h3v1h-3zM833 265h1v1h-1zM910 265h1v1h-1zM128 266h2v1h-2zM504 266h2v1h-2zM834 266h2v1h-2zM908 266h2v1h-2zM130 267h3v1h-3zM501 267h3v1h-3zM836 267h2v1h-2zM907 267h1v1h-1zM133 268h2v1h-2zM498 268h3v1h-3zM838 268h1v1h-1zM906 268h1v1h-1zM135 269h2v1h-2zM496 269h2v1h-2zM839 269h1v1h-1zM904 269h2v1h-2zM137 270h2v1h-2zM493 270h3v1h-3zM840 270h1v1h-1zM903 270h1v1h-1zM139 271h2v1h-2zM490 271h3v1h-3zM841 271h1v1h-1zM902 271h1v1h-1zM141 272h2v1h-2zM488 272h2v1h-2zM842 272h2v1h-2zM900 272h2v1h-2zM143 273h2v1h-2zM485 273h3v1h-3zM844 273h1v1h-1zM899 273h1v1h-1zM145 274h1v1h-1zM483 274h2v1h-2zM845 274h1v1h-1zM898 274h1v1h-1zM146 275h2v1h-2zM481 275h2v1h-2zM846 275h1v1h-1zM896 275h2v1h-2zM148 276h2v1h-2zM479 276h2v1h-2zM847 276h2v1h-2zM895 276h1v1h-1zM150 277h1v1h-1zM477 277h2v1h-2zM849 277h1v1h-1zM893 277h2v1h-2zM151 278h1v1h-1zM475 278h2v1h-2zM850 278h2v1h-2zM891 278h2v1h-2zM152 279h2v1h-2zM473 279h2v1h-2zM852 279h2v1h-2zM889 279h2v1h-2zM154 280h1v1h-1zM471 280h2v1h-2zM854 280h2v1h-2zM887 280h2v1h-2zM155 281h1v1h-1zM468 281h3v1h-3zM856 281h2v1h-2zM885 281h2v1h-2zM156 282h2v1h-2zM464 282h4v1h-4zM858 282h3v1h-3zM883 282h2v1h-2zM158 283h1v1h-1zM452 283h12v1h-12zM861 283h3v1h-3zM881 283h2v1h-2zM159 284h1v1h-1zM448 284h4v1h-4zM864 284h4v1h-4zM879 284h2v1h-2zM160 285h1v1h-1zM444 285h4v1h-4zM868 285h11v1h-11zM161 286h1v1h-1zM440 286h4v1h-4zM162 287h2v1h-2zM437 287h3v1h-3zM164 288h1v1h-1zM435 288h2v1h-2zM165 289h1v1h-1zM433 289h2v1h-2zM166 290h1v1h-1zM431 290h2v1h-2zM167 291h2v1h-2zM430 291h1v1h-1zM169 292h2v1h-2zM428 292h2v1h-2zM171 293h2v1h-2zM426 293h2v1h-2zM173 294h3v1h-3zM425 294h1v1h-1zM176 295h2v1h-2zM423 295h2v1h-2zM178 296h3v1h-3zM422 296h1v1h-1zM181 297h3v1h-3zM420 297h2v1h-2zM184 298h4v1h-4zM419 298h1v1h-1zM188 299h4v1h-4zM418 299h1v1h-1zM192 300h2v1h-2zM416 300h2v1h-2zM194 301h3v1h-3zM415 301h1v1h-1zM197 302h2v1h-2zM414 302h1v1h-1zM199 303h2v1h-2zM413 303h1v1h-1zM201 304h1v1h-1zM412 304h1v1h-1zM202 305h2v1h-2zM410 305h2v1h-2zM204 306h2v1h-2zM409 306h1v1h-1zM206 307h1v1h-1zM408 307h1v1h-1zM207 308h1v1h-1zM407 308h1v1h-1zM208 309h2v1h-2zM406 309h1v1h-1zM210 310h1v1h-1zM405 310h1v1h-1zM211 311h1v1h-1zM404 311h1v1h-1zM212 312h2v1h-2zM402 312h2v1h-2zM214 313h1v1h-1zM401 313h1v1h-1zM215 314h1v1h-1zM400 314h1v1h-1zM216 315h1v1h-1zM399 315h1v1h-1zM217 316h1v1h-1zM398 316h1v1h-1zM218 317h1v1h-1zM397 317h1v1h-1zM219 318h1v1h-1zM396 318h1v1h-1zM220 319h1v1h-1zM395 319h1v1h-1zM221 320h1v1h-1zM394 320h1v1h-1zM222 321h1v1h-1zM394 321h1v1h-1zM223 322h2v1h-2zM393 322h1v1h-1zM225 323h1v1h-1zM392 323h1v1h-1zM226 324h2v1h-2zM391 324h1v1h-1zM228 325h2v1h-2zM390 325h1v1h-1zM230 326h2v1h-2zM389 326h1v1h-1zM232 327h4v1h-4zM388 327h1v1h-1zM236 328h4v1h-4zM387 328h1v1h-1zM240 329h2v1h-2zM386 329h1v1h-1zM242 330h3v1h-3zM386 330h1v1h-1zM245 331h2v1h-2zM385 331h1v1h-1zM247 332h2v1h-2zM384 332h1v1h-1zM249 333h2v1h-2zM383 333h1v1h-1zM251 334h2v1h-2zM382 334h1v1h-1zM253 335h2v1h-2zM381 335h1v1h-1zM255 336h2v1h-2zM380 336h1v1h-1zM257 337h2v1h-2zM378 337h2v1h-2zM259 338h2v1h-2zM377 338h1v1h-1zM261 339h3v1h-3zM376 339h1v1h-1zM264 340h2v1h-2zM375 340h1v1h-1zM266 341h3v1h-3zM374 341h1v1h-1zM269 342h3v1h-3zM373 342h1v1h-1zM272 343h4v1h-4zM372 343h1v1h-1zM276 344h4v1h-4zM371 344h1v1h-1zM280 345h4v1h-4zM370 345h1v1h-1zM284 346h6v1h-6zM369 346h1v1h-1zM290 347h6v1h-6zM368 347h1v1h-1zM296 348h4v1h-4zM367 348h1v1h-1zM300 349h6v1h-6zM365 349h2v1h-2zM306 350h6v1h-6zM362 350h3v1h-3zM312 351h4v1h-4zM360 351h2v1h-2zM316 352h6v1h-6zM354 352h6v1h-6zM322 353h8v1h-8zM346 353h8v1h-8zM330 354h16v1h-16z" fill="#ff0000"/>
<rect x="6" y="39" width="1187" height="2" fill="#ff0000"/>
<rect x="6" y="123" width="1187" height="2" fill="#ff0000"/>
<rect x="6" y="207" width="1187" height="2" fill="#00c800"/>
<rect x="6" y="281" width="1187" height="2" fill="#4157e0"/>
<rect x="6" y="352" width="1187" height="2" fill="#4157e0"/>
</g>
<g font-family='"Liberation Sans", Arial, sans-serif'>
<rect x="1194" y="34" width="2" height="1" fill="#000"/>
<text transform="matrix(0.915 0 0 1 1199.5 38)" fill="#000" stroke="#000" stroke-width="0.2" font-size="10" text-rendering="geometricPrecision">115.270</text>
<rect x="1194" y="67" width="2" height="1" fill="#000"/>
<text transform="matrix(0.915 0 0 1 1199.5 71)" fill="#000" stroke="#000" stroke-width="0.2" font-size="10" text-rendering="geometricPrecision">113.695</text>
<rect x="1194" y="100" width="2" height="1" fill="#000"/>
<text transform="matrix(0.915 0 0 1 1199.5 104)" fill="#000" stroke="#000" stroke-width="0.2" font-size="10" text-rendering="geometricPrecision">112.120</text>
<rect x="1194" y="133" width="2" height="1" fill="#000"/>
<rect x="1194" y="166" width="2" height="1" fill="#000"/>
<text transform="matrix(0.915 0 0 1 1199.5 170)" fill="#000" stroke="#000" stroke-width="0.2" font-size="10" text-rendering="geometricPrecision">109.015</text>
<rect x="1194" y="199" width="2" height="1" fill="#000"/>
<text transform="matrix(0.915 0 0 1 1199.5 203)" fill="#000" stroke="#000" stroke-width="0.2" font-size="10" text-rendering="geometricPrecision">107.440</text>
<rect x="1194" y="232" width="2" height="1" fill="#000"/>
<text transform="matrix(0.915 0 0 1 1199.5 236)" fill="#000" stroke="#000" stroke-width="0.2" font-size="10" text-rendering="geometricPrecision">105.865</text>
<rect x="1194" y="265" width="2" height="1" fill="#000"/>
<text transform="matrix(0.915 0 0 1 1199.5 269)" fill="#000" stroke="#000" stroke-width="0.2" font-size="10" text-rendering="geometricPrecision">104.290</text>
<rect x="1194" y="298" width="2" height="1" fill="#000"/>
<text transform="matrix(0.915 0 0 1 1199.5 302)" fill="#000" stroke="#000" stroke-width="0.2" font-size="10" text-rendering="geometricPrecision">102.715</text>
<rect x="1194" y="331" width="2" height="1" fill="#000"/>
<text transform="matrix(0.915 0 0 1 1199.5 335)" fill="#000" stroke="#000" stroke-width="0.2" font-size="10" text-rendering="geometricPrecision">101.140</text>
<rect x="1194" y="364" width="2" height="1" fill="#000"/>
<text transform="matrix(0.915 0 0 1 1199.5 368)" fill="#000" stroke="#000" stroke-width="0.2" font-size="10" text-rendering="geometricPrecision">99.565</text>
<rect x="1194" y="397" width="2" height="1" fill="#000"/>
<text transform="matrix(0.915 0 0 1 1199.5 401)" fill="#000" stroke="#000" stroke-width="0.2" font-size="10" text-rendering="geometricPrecision">97.990</text>
<rect x="1194" y="430" width="2" height="1" fill="#000"/>
<text transform="matrix(0.915 0 0 1 1199.5 434)" fill="#000" stroke="#000" stroke-width="0.2" font-size="10" text-rendering="geometricPrecision">96.460</text>
<rect x="1194" y="463" width="2" height="1" fill="#000"/>
<text transform="matrix(0.915 0 0 1 1199.5 467)" fill="#000" stroke="#000" stroke-width="0.2" font-size="10" text-rendering="geometricPrecision">94.885</text>
<rect x="1196" y="34" width="39" height="11" fill="#ff0000"/>
<text transform="matrix(0.915 0 0 1 1199.5 43)" fill="#fff" stroke="#fff" stroke-width="0.2" font-size="10" text-rendering="geometricPrecision">115.000</text>
<rect x="1196" y="118" width="39" height="11" fill="#ff0000"/>
<text transform="matrix(0.915 0 0 1 1199.5 127)" fill="#fff" stroke="#fff" stroke-width="0.2" font-size="10" text-rendering="geometricPrecision">111.000</text>
<rect x="1196" y="130" width="39" height="11" fill="#000"/>
<text transform="matrix(0.915 0 0 1 1199.5 139)" fill="#fff" stroke="#fff" stroke-width="0.2" font-size="10" text-rendering="geometricPrecision">110.496</text>
<rect x="1196" y="202" width="39" height="11" fill="#00c800"/>
<text transform="matrix(0.915 0 0 1 1199.5 211)" fill="#fff" stroke="#fff" stroke-width="0.2" font-size="10" text-rendering="geometricPrecision">107.000</text>
<rect x="1196" y="276" width="39" height="11" fill="#4157e0"/>
<text transform="matrix(0.915 0 0 1 1199.5 285)" fill="#fff" stroke="#fff" stroke-width="0.2" font-size="10" text-rendering="geometricPrecision">103.500</text>
<rect x="1196" y="347" width="39" height="11" fill="#4157e0"/>
<text transform="matrix(0.915 0 0 1 1199.5 356)" fill="#fff" stroke="#fff" stroke-width="0.2" font-size="10" text-rendering="geometricPrecision">100.103</text>
</g>
<g font-family='"Liberation Sans", Arial, sans-serif'>
<polygon points="9,13 16,13 12.5,17" fill="#000"/>
<text transform="matrix(1.0 0 0 1 20.3 17.6)" fill="#000" stroke="#000" stroke-width="0.2" font-size="10" text-rendering="geometricPrecision">USOil-,H4</text>
<text transform="matrix(0.935 0 0 1 70.4 17.6)" fill="#000" stroke="#000" stroke-width="0.2" font-size="10" text-rendering="geometricPrecision">110.649</text>
<text transform="matrix(0.935 0 0 1 106.30000000000001 17.6)" fill="#000" stroke="#000" stroke-width="0.2" font-size="10" text-rendering="geometricPrecision">110.842</text>
<text transform="matrix(0.935 0 0 1 142.2 17.6)" fill="#000" stroke="#000" stroke-width="0.2" font-size="10" text-rendering="geometricPrecision">110.431</text>
<text transform="matrix(0.935 0 0 1 178.1 17.6)" fill="#000" stroke="#000" stroke-width="0.2" font-size="10" text-rendering="geometricPrecision">110.496</text>
</g>
<g clip-path="url(#cd)" shape-rendering="crispEdges">
<rect x="6" y="481" width="1" height="43" fill="#c0c0c0"/>
<rect x="14" y="485" width="1" height="39" fill="#c0c0c0"/>
<rect x="22" y="495" width="1" height="29" fill="#c0c0c0"/>
<rect x="30" y="503" width="1" height="21" fill="#c0c0c0"/>
<rect x="38" y="508" width="1" height="16" fill="#c0c0c0"/>
<rect x="46" y="512" width="1" height="12" fill="#c0c0c0"/>
<rect x="54" y="515" width="1" height="9" fill="#c0c0c0"/>
<rect x="62" y="517" width="1" height="7" fill="#c0c0c0"/>
<rect x="78" y="523" width="1" height="2" fill="#c0c0c0"/>
<rect x="86" y="523" width="1" height="4" fill="#c0c0c0"/>
<rect x="94" y="523" width="1" height="4" fill="#c0c0c0"/>
<rect x="102" y="523" width="1" height="2" fill="#c0c0c0"/>
<rect x="110" y="523" width="1" height="3" fill="#c0c0c0"/>
<rect x="142" y="523" width="1" height="2" fill="#c0c0c0"/>
<rect x="150" y="523" width="1" height="2" fill="#c0c0c0"/>
<rect x="158" y="523" width="1" height="2" fill="#c0c0c0"/>
<rect x="166" y="523" width="1" height="5" fill="#c0c0c0"/>
<rect x="174" y="523" width="1" height="7" fill="#c0c0c0"/>
<rect x="182" y="523" width="1" height="8" fill="#c0c0c0"/>
<rect x="190" y="523" width="1" height="11" fill="#c0c0c0"/>
<rect x="198" y="523" width="1" height="16" fill="#c0c0c0"/>
<rect x="206" y="523" width="1" height="21" fill="#c0c0c0"/>
<rect x="214" y="523" width="1" height="27" fill="#c0c0c0"/>
<rect x="222" y="523" width="1" height="33" fill="#c0c0c0"/>
<rect x="230" y="523" width="1" height="32" fill="#c0c0c0"/>
<rect x="238" y="523" width="1" height="31" fill="#c0c0c0"/>
<rect x="246" y="523" width="1" height="29" fill="#c0c0c0"/>
<rect x="254" y="523" width="1" height="30" fill="#c0c0c0"/>
<rect x="262" y="523" width="1" height="26" fill="#c0c0c0"/>
<rect x="270" y="523" width="1" height="22" fill="#c0c0c0"/>
<rect x="278" y="523" width="1" height="16" fill="#c0c0c0"/>
<rect x="286" y="523" width="1" height="12" fill="#c0c0c0"/>
<rect x="294" y="523" width="1" height="8" fill="#c0c0c0"/>
<rect x="302" y="523" width="1" height="5" fill="#c0c0c0"/>
<rect x="310" y="523" width="1" height="4" fill="#c0c0c0"/>
<rect x="318" y="523" width="1" height="3" fill="#c0c0c0"/>
<rect x="326" y="523" width="1" height="1" fill="#c0c0c0"/>
<rect x="342" y="523" width="1" height="1" fill="#c0c0c0"/>
<rect x="350" y="523" width="1" height="1" fill="#c0c0c0"/>
<rect x="358" y="523" width="1" height="1" fill="#c0c0c0"/>
<rect x="366" y="519" width="1" height="5" fill="#c0c0c0"/>
<rect x="374" y="513" width="1" height="11" fill="#c0c0c0"/>
<rect x="382" y="509" width="1" height="15" fill="#c0c0c0"/>
<rect x="390" y="506" width="1" height="18" fill="#c0c0c0"/>
<rect x="398" y="502" width="1" height="22" fill="#c0c0c0"/>
<rect x="406" y="499" width="1" height="25" fill="#c0c0c0"/>
<rect x="414" y="497" width="1" height="27" fill="#c0c0c0"/>
<rect x="422" y="499" width="1" height="25" fill="#c0c0c0"/>
<rect x="430" y="501" width="1" height="23" fill="#c0c0c0"/>
<rect x="438" y="503" width="1" height="21" fill="#c0c0c0"/>
<rect x="446" y="504" width="1" height="20" fill="#c0c0c0"/>
<rect x="454" y="506" width="1" height="18" fill="#c0c0c0"/>
<rect x="462" y="513" width="1" height="11" fill="#c0c0c0"/>
<rect x="470" y="513" width="1" height="11" fill="#c0c0c0"/>
<rect x="478" y="510" width="1" height="14" fill="#c0c0c0"/>
<rect x="486" y="510" width="1" height="14" fill="#c0c0c0"/>
<rect x="494" y="510" width="1" height="14" fill="#c0c0c0"/>
<rect x="502" y="510" width="1" height="14" fill="#c0c0c0"/>
<rect x="510" y="511" width="1" height="13" fill="#c0c0c0"/>
<rect x="518" y="514" width="1" height="10" fill="#c0c0c0"/>
<rect x="526" y="517" width="1" height="7" fill="#c0c0c0"/>
<rect x="534" y="518" width="1" height="6" fill="#c0c0c0"/>
<rect x="542" y="519" width="1" height="5" fill="#c0c0c0"/>
<rect x="550" y="518" width="1" height="6" fill="#c0c0c0"/>
<rect x="558" y="515" width="1" height="9" fill="#c0c0c0"/>
<rect x="566" y="512" width="1" height="12" fill="#c0c0c0"/>
<rect x="574" y="507" width="1" height="17" fill="#c0c0c0"/>
<rect x="582" y="504" width="1" height="20" fill="#c0c0c0"/>
<rect x="590" y="501" width="1" height="23" fill="#c0c0c0"/>
<rect x="598" y="500" width="1" height="24" fill="#c0c0c0"/>
<rect x="606" y="497" width="1" height="27" fill="#c0c0c0"/>
<rect x="614" y="499" width="1" height="25" fill="#c0c0c0"/>
<rect x="622" y="498" width="1" height="26" fill="#c0c0c0"/>
<rect x="630" y="497" width="1" height="27" fill="#c0c0c0"/>
<rect x="638" y="497" width="1" height="27" fill="#c0c0c0"/>
<rect x="646" y="497" width="1" height="27" fill="#c0c0c0"/>
<rect x="654" y="495" width="1" height="29" fill="#c0c0c0"/>
<rect x="662" y="493" width="1" height="31" fill="#c0c0c0"/>
<rect x="670" y="492" width="1" height="32" fill="#c0c0c0"/>
<rect x="678" y="492" width="1" height="32" fill="#c0c0c0"/>
<rect x="686" y="494" width="1" height="30" fill="#c0c0c0"/>
<rect x="694" y="495" width="1" height="29" fill="#c0c0c0"/>
<rect x="702" y="497" width="1" height="27" fill="#c0c0c0"/>
<rect x="710" y="503" width="1" height="21" fill="#c0c0c0"/>
<rect x="718" y="512" width="1" height="12" fill="#c0c0c0"/>
<rect x="726" y="522" width="1" height="2" fill="#c0c0c0"/>
<rect x="734" y="523" width="1" height="6" fill="#c0c0c0"/>
<rect x="742" y="523" width="1" height="14" fill="#c0c0c0"/>
<rect x="750" y="523" width="1" height="16" fill="#c0c0c0"/>
<rect x="758" y="523" width="1" height="21" fill="#c0c0c0"/>
<rect x="766" y="523" width="1" height="27" fill="#c0c0c0"/>
<rect x="774" y="523" width="1" height="33" fill="#c0c0c0"/>
<rect x="782" y="523" width="1" height="38" fill="#c0c0c0"/>
<rect x="790" y="523" width="1" height="37" fill="#c0c0c0"/>
<rect x="798" y="523" width="1" height="34" fill="#c0c0c0"/>
<rect x="806" y="523" width="1" height="30" fill="#c0c0c0"/>
<rect x="814" y="523" width="1" height="24" fill="#c0c0c0"/>
<rect x="822" y="523" width="1" height="19" fill="#c0c0c0"/>
<rect x="830" y="523" width="1" height="14" fill="#c0c0c0"/>
<rect x="838" y="523" width="1" height="11" fill="#c0c0c0"/>
<rect x="846" y="523" width="1" height="11" fill="#c0c0c0"/>
<rect x="854" y="523" width="1" height="10" fill="#c0c0c0"/>
<rect x="862" y="523" width="1" height="5" fill="#c0c0c0"/>
<rect x="878" y="520" width="1" height="4" fill="#c0c0c0"/>
<rect x="886" y="516" width="1" height="8" fill="#c0c0c0"/>
<rect x="894" y="514" width="1" height="10" fill="#c0c0c0"/>
<rect x="902" y="511" width="1" height="13" fill="#c0c0c0"/>
<rect x="910" y="505" width="1" height="19" fill="#c0c0c0"/>
<rect x="918" y="500" width="1" height="24" fill="#c0c0c0"/>
<rect x="926" y="497" width="1" height="27" fill="#c0c0c0"/>
<rect x="934" y="493" width="1" height="31" fill="#c0c0c0"/>
<rect x="942" y="494" width="1" height="30" fill="#c0c0c0"/>
<rect x="950" y="495" width="1" height="29" fill="#c0c0c0"/>
<rect x="958" y="495" width="1" height="29" fill="#c0c0c0"/>
<rect x="966" y="491" width="1" height="33" fill="#c0c0c0"/>
<rect x="974" y="485" width="1" height="39" fill="#c0c0c0"/>
<rect x="982" y="481" width="1" height="43" fill="#c0c0c0"/>
<rect x="990" y="479" width="1" height="45" fill="#c0c0c0"/>
<rect x="998" y="478" width="1" height="46" fill="#c0c0c0"/>
<rect x="1006" y="475" width="1" height="49" fill="#c0c0c0"/>
<rect x="1014" y="476" width="1" height="48" fill="#c0c0c0"/>
<rect x="1022" y="481" width="1" height="43" fill="#c0c0c0"/>
<rect x="1030" y="481" width="1" height="43" fill="#c0c0c0"/>
<rect x="1038" y="483" width="1" height="41" fill="#c0c0c0"/>
<rect x="1046" y="483" width="1" height="41" fill="#c0c0c0"/>
<rect x="1054" y="483" width="1" height="41" fill="#c0c0c0"/>
<rect x="1062" y="491" width="1" height="33" fill="#c0c0c0"/>
<rect x="1070" y="498" width="1" height="26" fill="#c0c0c0"/>
<rect x="1078" y="511" width="1" height="13" fill="#c0c0c0"/>
<rect x="1086" y="518" width="1" height="6" fill="#c0c0c0"/>
<rect x="1102" y="523" width="1" height="8" fill="#c0c0c0"/>
<rect x="1110" y="523" width="1" height="10" fill="#c0c0c0"/>
<rect x="1118" y="523" width="1" height="9" fill="#c0c0c0"/>
<rect x="1126" y="523" width="1" height="9" fill="#c0c0c0"/>
<rect x="1134" y="523" width="1" height="9" fill="#c0c0c0"/>
<rect x="1142" y="523" width="1" height="8" fill="#c0c0c0"/>
<rect x="1150" y="523" width="1" height="6" fill="#c0c0c0"/>
<rect x="1158" y="523" width="1" height="4" fill="#c0c0c0"/>
<rect x="1166" y="523" width="1" height="1" fill="#c0c0c0"/>
<path d="M6 477h2v1h-2zM8 478h1v1h-1zM12 479h5v1h-5zM1036 479h5v1h-5zM1044 479h5v1h-5zM20 480h4v1h-4zM1028 480h5v1h-5zM1052 480h5v1h-5zM1060 480h4v1h-4zM24 481h1v1h-1zM1020 481h5v1h-5zM1064 481h1v1h-1zM28 482h1v1h-1zM1016 482h1v1h-1zM1068 482h3v1h-3zM29 483h3v1h-3zM1012 483h4v1h-4zM1071 483h2v1h-2zM32 484h1v1h-1zM1008 484h1v1h-1zM36 485h1v1h-1zM1004 485h4v1h-4zM1076 485h1v1h-1zM37 486h2v1h-2zM1000 486h1v1h-1zM1077 486h2v1h-2zM39 487h2v1h-2zM996 487h4v1h-4zM1079 487h2v1h-2zM992 488h1v1h-1zM44 489h1v1h-1zM988 489h4v1h-4zM45 490h2v1h-2zM984 490h1v1h-1zM1084 490h2v1h-2zM47 491h2v1h-2zM981 491h3v1h-3zM1086 491h1v1h-1zM980 492h1v1h-1zM1087 492h2v1h-2zM52 493h1v1h-1zM53 494h2v1h-2zM684 494h5v1h-5zM692 494h5v1h-5zM700 494h5v1h-5zM708 494h4v1h-4zM975 494h2v1h-2zM55 495h2v1h-2zM668 495h5v1h-5zM676 495h5v1h-5zM712 495h1v1h-1zM972 495h3v1h-3zM1092 495h2v1h-2zM664 496h1v1h-1zM716 496h4v1h-4zM968 496h1v1h-1zM1094 496h1v1h-1zM60 497h1v1h-1zM660 497h4v1h-4zM720 497h1v1h-1zM965 497h3v1h-3zM1095 497h2v1h-2zM61 498h2v1h-2zM644 498h5v1h-5zM652 498h5v1h-5zM724 498h1v1h-1zM964 498h1v1h-1zM63 499h2v1h-2zM636 499h5v1h-5zM725 499h2v1h-2zM960 499h1v1h-1zM632 500h1v1h-1zM727 500h2v1h-2zM957 500h3v1h-3zM1100 500h2v1h-2zM452 501h5v1h-5zM460 501h4v1h-4zM628 501h4v1h-4zM956 501h1v1h-1zM1102 501h1v1h-1zM68 502h2v1h-2zM436 502h5v1h-5zM444 502h5v1h-5zM464 502h1v1h-1zM624 502h1v1h-1zM732 502h1v1h-1zM952 502h1v1h-1zM1103 502h1v1h-1zM70 503h1v1h-1zM432 503h1v1h-1zM468 503h5v1h-5zM620 503h4v1h-4zM733 503h2v1h-2zM949 503h3v1h-3zM1104 503h1v1h-1zM71 504h2v1h-2zM428 504h4v1h-4zM476 504h5v1h-5zM616 504h1v1h-1zM735 504h2v1h-2zM948 504h1v1h-1zM424 505h1v1h-1zM484 505h4v1h-4zM613 505h3v1h-3zM944 505h1v1h-1zM421 506h3v1h-3zM488 506h1v1h-1zM612 506h1v1h-1zM941 506h3v1h-3zM1108 506h1v1h-1zM76 507h2v1h-2zM420 507h1v1h-1zM492 507h5v1h-5zM608 507h1v1h-1zM740 507h2v1h-2zM940 507h1v1h-1zM1109 507h1v1h-1zM78 508h1v1h-1zM500 508h5v1h-5zM604 508h4v1h-4zM742 508h1v1h-1zM936 508h1v1h-1zM1110 508h1v1h-1zM79 509h2v1h-2zM415 509h2v1h-2zM508 509h5v1h-5zM600 509h1v1h-1zM743 509h1v1h-1zM933 509h3v1h-3zM1111 509h1v1h-1zM412 510h3v1h-3zM516 510h5v1h-5zM596 510h4v1h-4zM744 510h1v1h-1zM932 510h1v1h-1zM1112 510h1v1h-1zM408 511h1v1h-1zM524 511h5v1h-5zM588 511h5v1h-5zM928 511h1v1h-1zM84 512h2v1h-2zM405 512h3v1h-3zM532 512h5v1h-5zM540 512h5v1h-5zM584 512h1v1h-1zM925 512h3v1h-3zM86 513h1v1h-1zM404 513h1v1h-1zM548 513h5v1h-5zM580 513h4v1h-4zM748 513h2v1h-2zM924 513h1v1h-1zM1116 513h2v1h-2zM87 514h2v1h-2zM556 514h5v1h-5zM564 514h5v1h-5zM572 514h5v1h-5zM750 514h1v1h-1zM1118 514h1v1h-1zM399 515h2v1h-2zM751 515h2v1h-2zM919 515h2v1h-2zM1119 515h2v1h-2zM92 516h1v1h-1zM396 516h3v1h-3zM917 516h2v1h-2zM93 517h3v1h-3zM392 517h1v1h-1zM916 517h1v1h-1zM1124 517h1v1h-1zM96 518h1v1h-1zM389 518h3v1h-3zM756 518h2v1h-2zM1125 518h2v1h-2zM100 519h4v1h-4zM388 519h1v1h-1zM758 519h1v1h-1zM911 519h2v1h-2zM1127 519h2v1h-2zM104 520h1v1h-1zM384 520h1v1h-1zM759 520h1v1h-1zM909 520h2v1h-2zM108 521h4v1h-4zM380 521h4v1h-4zM760 521h1v1h-1zM908 521h1v1h-1zM112 522h1v1h-1zM376 522h1v1h-1zM1132 522h2v1h-2zM116 523h5v1h-5zM372 523h4v1h-4zM903 523h2v1h-2zM1134 523h1v1h-1zM124 524h5v1h-5zM364 524h5v1h-5zM764 524h1v1h-1zM900 524h3v1h-3zM1135 524h2v1h-2zM132 525h5v1h-5zM140 525h5v1h-5zM148 525h5v1h-5zM360 525h1v1h-1zM765 525h1v1h-1zM896 525h1v1h-1zM156 526h5v1h-5zM164 526h5v1h-5zM356 526h4v1h-4zM766 526h1v1h-1zM893 526h3v1h-3zM1140 526h1v1h-1zM172 527h5v1h-5zM180 527h5v1h-5zM352 527h1v1h-1zM767 527h1v1h-1zM892 527h1v1h-1zM1141 527h3v1h-3zM188 528h5v1h-5zM348 528h4v1h-4zM768 528h1v1h-1zM1144 528h1v1h-1zM196 529h4v1h-4zM341 529h4v1h-4zM887 529h2v1h-2zM1148 529h5v1h-5zM200 530h1v1h-1zM340 530h1v1h-1zM885 530h2v1h-2zM1156 530h5v1h-5zM1164 530h5v1h-5zM1172 530h3v1h-3zM204 531h4v1h-4zM336 531h1v1h-1zM772 531h2v1h-2zM884 531h1v1h-1zM208 532h1v1h-1zM333 532h3v1h-3zM774 532h1v1h-1zM880 532h1v1h-1zM212 533h1v1h-1zM332 533h1v1h-1zM775 533h1v1h-1zM878 533h2v1h-2zM213 534h2v1h-2zM328 534h1v1h-1zM776 534h1v1h-1zM876 534h2v1h-2zM215 535h2v1h-2zM325 535h3v1h-3zM324 536h1v1h-1zM220 537h1v1h-1zM320 537h1v1h-1zM780 537h1v1h-1zM871 537h2v1h-2zM221 538h2v1h-2zM317 538h3v1h-3zM781 538h1v1h-1zM869 538h2v1h-2zM223 539h2v1h-2zM316 539h1v1h-1zM782 539h1v1h-1zM868 539h1v1h-1zM312 540h1v1h-1zM783 540h2v1h-2zM864 540h1v1h-1zM228 541h1v1h-1zM308 541h4v1h-4zM861 541h3v1h-3zM229 542h3v1h-3zM304 542h1v1h-1zM788 542h1v1h-1zM860 542h1v1h-1zM232 543h1v1h-1zM301 543h3v1h-3zM789 543h2v1h-2zM856 543h1v1h-1zM236 544h4v1h-4zM300 544h1v1h-1zM791 544h2v1h-2zM853 544h3v1h-3zM240 545h1v1h-1zM852 545h1v1h-1zM244 546h4v1h-4zM295 546h2v1h-2zM848 546h1v1h-1zM248 547h1v1h-1zM293 547h2v1h-2zM796 547h2v1h-2zM845 547h3v1h-3zM252 548h1v1h-1zM292 548h1v1h-1zM798 548h2v1h-2zM844 548h1v1h-1zM253 549h4v1h-4zM288 549h1v1h-1zM800 549h1v1h-1zM840 549h1v1h-1zM260 550h5v1h-5zM284 550h4v1h-4zM804 550h1v1h-1zM836 550h4v1h-4zM268 551h5v1h-5zM276 551h5v1h-5zM805 551h4v1h-4zM832 551h1v1h-1zM812 552h5v1h-5zM828 552h4v1h-4zM820 553h5v1h-5z" fill="#ff0000"/>
</g>
<g font-family='"Liberation Sans", Arial, sans-serif'>
<text transform="matrix(0.935 0 0 1 9.5 481)" fill="#000" stroke="#000" stroke-width="0.2" font-size="10" text-rendering="geometricPrecision">MACD(12,26,9) 0.0044 -0.2993</text>
<rect x="1194" y="470" width="1" height="1" fill="#000"/>
<text transform="matrix(0.915 0 0 1 1196.8 478.6)" fill="#000" stroke="#000" stroke-width="0.2" font-size="10" text-rendering="geometricPrecision">2.5593</text>
<rect x="1194" y="523" width="2" height="1" fill="#000"/>
<text transform="matrix(0.915 0 0 1 1196.8 527)" fill="#000" stroke="#000" stroke-width="0.2" font-size="10" text-rendering="geometricPrecision">0.00</text>
<text transform="matrix(0.915 0 0 1 1196.3 563)" fill="#000" stroke="#000" stroke-width="0.2" font-size="10" text-rendering="geometricPrecision">-2.0366</text>
</g>
<g clip-path="url(#cr)" shape-rendering="crispEdges">
<line x1="7" y1="599.5" x2="1193" y2="599.5" stroke="#c0c0c0" stroke-width="1" stroke-dasharray="3 3"/>
<line x1="7" y1="639.5" x2="1193" y2="639.5" stroke="#c0c0c0" stroke-width="1" stroke-dasharray="3 3"/>
</g>
<g clip-path="url(#cr)" shape-rendering="crispEdges">
<path d="M1005 598h2v1h-2zM974 599h10v1h-10zM1002 599h3v1h-3zM1007 599h1v1h-1zM933 600h2v1h-2zM972 600h2v1h-2zM984 600h4v1h-4zM1000 600h2v1h-2zM1008 600h1v1h-1zM930 601h3v1h-3zM935 601h1v1h-1zM970 601h2v1h-2zM988 601h12v1h-12zM1009 601h1v1h-1zM605 602h2v1h-2zM928 602h2v1h-2zM935 602h1v1h-1zM969 602h1v1h-1zM1010 602h1v1h-1zM603 603h2v1h-2zM607 603h1v1h-1zM660 603h6v1h-6zM916 603h12v1h-12zM936 603h1v1h-1zM967 603h2v1h-2zM1011 603h1v1h-1zM410 604h5v1h-5zM601 604h2v1h-2zM607 604h1v1h-1zM656 604h4v1h-4zM666 604h8v1h-8zM912 604h4v1h-4zM937 604h1v1h-1zM966 604h1v1h-1zM1012 604h1v1h-1zM396 605h14v1h-14zM415 605h1v1h-1zM574 605h12v1h-12zM599 605h2v1h-2zM608 605h1v1h-1zM653 605h3v1h-3zM674 605h5v1h-5zM910 605h2v1h-2zM938 605h1v1h-1zM964 605h2v1h-2zM1013 605h1v1h-1zM373 606h3v1h-3zM392 606h4v1h-4zM416 606h1v1h-1zM572 606h2v1h-2zM586 606h13v1h-13zM609 606h1v1h-1zM651 606h2v1h-2zM679 606h1v1h-1zM908 606h2v1h-2zM938 606h1v1h-1zM962 606h2v1h-2zM1014 606h1v1h-1zM1052 606h3v1h-3zM371 607h2v1h-2zM376 607h4v1h-4zM386 607h6v1h-6zM416 607h1v1h-1zM570 607h2v1h-2zM609 607h1v1h-1zM636 607h4v1h-4zM649 607h2v1h-2zM680 607h2v1h-2zM906 607h2v1h-2zM939 607h1v1h-1zM961 607h1v1h-1zM1015 607h1v1h-1zM1048 607h4v1h-4zM1055 607h1v1h-1zM369 608h2v1h-2zM380 608h6v1h-6zM417 608h1v1h-1zM569 608h1v1h-1zM610 608h1v1h-1zM632 608h4v1h-4zM640 608h4v1h-4zM647 608h2v1h-2zM682 608h1v1h-1zM905 608h1v1h-1zM940 608h1v1h-1zM959 608h2v1h-2zM1016 608h2v1h-2zM1029 608h5v1h-5zM1042 608h6v1h-6zM1055 608h1v1h-1zM367 609h2v1h-2zM418 609h1v1h-1zM558 609h4v1h-4zM567 609h2v1h-2zM611 609h1v1h-1zM628 609h4v1h-4zM644 609h3v1h-3zM683 609h1v1h-1zM692 609h3v1h-3zM884 609h4v1h-4zM903 609h2v1h-2zM941 609h1v1h-1zM956 609h3v1h-3zM1018 609h1v1h-1zM1027 609h2v1h-2zM1034 609h8v1h-8zM1056 609h1v1h-1zM6 610h4v1h-4zM366 610h1v1h-1zM419 610h1v1h-1zM556 610h2v1h-2zM562 610h5v1h-5zM611 610h1v1h-1zM624 610h4v1h-4zM684 610h2v1h-2zM688 610h4v1h-4zM695 610h2v1h-2zM880 610h4v1h-4zM888 610h2v1h-2zM900 610h3v1h-3zM941 610h1v1h-1zM952 610h4v1h-4zM1019 610h1v1h-1zM1025 610h2v1h-2zM1056 610h1v1h-1zM10 611h5v1h-5zM365 611h1v1h-1zM420 611h1v1h-1zM478 611h2v1h-2zM555 611h1v1h-1zM612 611h1v1h-1zM621 611h3v1h-3zM686 611h2v1h-2zM697 611h1v1h-1zM869 611h11v1h-11zM890 611h3v1h-3zM896 611h4v1h-4zM942 611h10v1h-10zM1020 611h2v1h-2zM1023 611h2v1h-2zM1057 611h1v1h-1zM15 612h1v1h-1zM364 612h1v1h-1zM420 612h1v1h-1zM476 612h2v1h-2zM480 612h4v1h-4zM554 612h1v1h-1zM613 612h1v1h-1zM618 612h3v1h-3zM698 612h2v1h-2zM866 612h3v1h-3zM893 612h3v1h-3zM1022 612h1v1h-1zM1057 612h1v1h-1zM15 613h1v1h-1zM364 613h1v1h-1zM421 613h1v1h-1zM434 613h6v1h-6zM474 613h2v1h-2zM484 613h4v1h-4zM552 613h2v1h-2zM613 613h1v1h-1zM616 613h2v1h-2zM700 613h2v1h-2zM864 613h2v1h-2zM1058 613h1v1h-1zM16 614h1v1h-1zM363 614h1v1h-1zM422 614h12v1h-12zM440 614h2v1h-2zM473 614h1v1h-1zM488 614h4v1h-4zM551 614h1v1h-1zM614 614h2v1h-2zM702 614h1v1h-1zM828 614h3v1h-3zM862 614h2v1h-2zM1058 614h1v1h-1zM16 615h1v1h-1zM282 615h8v1h-8zM298 615h8v1h-8zM326 615h2v1h-2zM350 615h1v1h-1zM362 615h1v1h-1zM442 615h3v1h-3zM471 615h2v1h-2zM492 615h6v1h-6zM550 615h1v1h-1zM703 615h1v1h-1zM824 615h4v1h-4zM831 615h2v1h-2zM861 615h1v1h-1zM1059 615h1v1h-1zM17 616h1v1h-1zM117 616h3v1h-3zM277 616h5v1h-5zM290 616h8v1h-8zM306 616h5v1h-5zM324 616h2v1h-2zM328 616h4v1h-4zM349 616h1v1h-1zM351 616h2v1h-2zM361 616h1v1h-1zM445 616h5v1h-5zM470 616h1v1h-1zM498 616h8v1h-8zM548 616h2v1h-2zM704 616h2v1h-2zM818 616h6v1h-6zM833 616h1v1h-1zM860 616h1v1h-1zM1059 616h1v1h-1zM1162 616h13v1h-13zM17 617h1v1h-1zM115 617h2v1h-2zM120 617h4v1h-4zM275 617h2v1h-2zM311 617h2v1h-2zM322 617h2v1h-2zM332 617h3v1h-3zM348 617h1v1h-1zM353 617h1v1h-1zM360 617h1v1h-1zM450 617h5v1h-5zM469 617h1v1h-1zM506 617h6v1h-6zM546 617h2v1h-2zM706 617h1v1h-1zM813 617h5v1h-5zM834 617h2v1h-2zM858 617h2v1h-2zM1060 617h1v1h-1zM1154 617h8v1h-8zM18 618h1v1h-1zM101 618h3v1h-3zM113 618h2v1h-2zM124 618h6v1h-6zM273 618h2v1h-2zM313 618h2v1h-2zM321 618h1v1h-1zM335 618h2v1h-2zM346 618h2v1h-2zM354 618h2v1h-2zM360 618h1v1h-1zM455 618h1v1h-1zM469 618h1v1h-1zM512 618h4v1h-4zM545 618h1v1h-1zM707 618h1v1h-1zM811 618h2v1h-2zM836 618h2v1h-2zM857 618h1v1h-1zM1060 618h1v1h-1zM1146 618h8v1h-8zM18 619h1v1h-1zM98 619h3v1h-3zM104 619h4v1h-4zM111 619h2v1h-2zM130 619h5v1h-5zM149 619h2v1h-2zM271 619h2v1h-2zM315 619h2v1h-2zM319 619h2v1h-2zM337 619h1v1h-1zM345 619h1v1h-1zM356 619h2v1h-2zM359 619h1v1h-1zM455 619h1v1h-1zM468 619h1v1h-1zM516 619h4v1h-4zM543 619h2v1h-2zM708 619h2v1h-2zM809 619h2v1h-2zM838 619h2v1h-2zM856 619h1v1h-1zM1061 619h1v1h-1zM1141 619h5v1h-5zM19 620h1v1h-1zM58 620h5v1h-5zM96 620h2v1h-2zM108 620h3v1h-3zM135 620h2v1h-2zM147 620h2v1h-2zM151 620h2v1h-2zM270 620h1v1h-1zM317 620h2v1h-2zM338 620h2v1h-2zM344 620h1v1h-1zM358 620h1v1h-1zM456 620h1v1h-1zM467 620h1v1h-1zM520 620h2v1h-2zM532 620h11v1h-11zM710 620h1v1h-1zM807 620h2v1h-2zM840 620h2v1h-2zM855 620h1v1h-1zM1061 620h1v1h-1zM1139 620h2v1h-2zM19 621h1v1h-1zM50 621h8v1h-8zM63 621h1v1h-1zM92 621h4v1h-4zM137 621h2v1h-2zM145 621h2v1h-2zM153 621h2v1h-2zM268 621h2v1h-2zM340 621h2v1h-2zM343 621h1v1h-1zM457 621h1v1h-1zM467 621h1v1h-1zM522 621h3v1h-3zM528 621h4v1h-4zM711 621h1v1h-1zM806 621h1v1h-1zM842 621h3v1h-3zM850 621h5v1h-5zM1062 621h2v1h-2zM1122 621h6v1h-6zM1137 621h2v1h-2zM20 622h1v1h-1zM37 622h13v1h-13zM64 622h1v1h-1zM88 622h4v1h-4zM139 622h2v1h-2zM143 622h2v1h-2zM155 622h2v1h-2zM266 622h2v1h-2zM342 622h1v1h-1zM458 622h1v1h-1zM466 622h1v1h-1zM525 622h3v1h-3zM711 622h1v1h-1zM804 622h2v1h-2zM845 622h5v1h-5zM1064 622h4v1h-4zM1117 622h5v1h-5zM1128 622h4v1h-4zM1135 622h2v1h-2zM20 623h1v1h-1zM35 623h2v1h-2zM64 623h1v1h-1zM82 623h6v1h-6zM141 623h2v1h-2zM157 623h3v1h-3zM265 623h1v1h-1zM458 623h1v1h-1zM465 623h1v1h-1zM712 623h1v1h-1zM802 623h2v1h-2zM1068 623h3v1h-3zM1114 623h3v1h-3zM1132 623h3v1h-3zM21 624h1v1h-1zM33 624h2v1h-2zM65 624h1v1h-1zM78 624h4v1h-4zM160 624h4v1h-4zM263 624h2v1h-2zM459 624h1v1h-1zM465 624h1v1h-1zM713 624h1v1h-1zM801 624h1v1h-1zM1071 624h1v1h-1zM1112 624h2v1h-2zM21 625h1v1h-1zM31 625h2v1h-2zM66 625h1v1h-1zM76 625h2v1h-2zM164 625h6v1h-6zM245 625h2v1h-2zM262 625h1v1h-1zM460 625h1v1h-1zM464 625h1v1h-1zM714 625h1v1h-1zM799 625h2v1h-2zM1072 625h1v1h-1zM1110 625h2v1h-2zM22 626h1v1h-1zM26 626h5v1h-5zM67 626h1v1h-1zM75 626h1v1h-1zM170 626h13v1h-13zM242 626h3v1h-3zM247 626h2v1h-2zM260 626h2v1h-2zM461 626h1v1h-1zM463 626h1v1h-1zM714 626h1v1h-1zM796 626h3v1h-3zM1073 626h1v1h-1zM1086 626h9v1h-9zM1108 626h2v1h-2zM22 627h4v1h-4zM68 627h1v1h-1zM74 627h1v1h-1zM183 627h2v1h-2zM240 627h2v1h-2zM249 627h1v1h-1zM258 627h2v1h-2zM461 627h1v1h-1zM463 627h1v1h-1zM715 627h1v1h-1zM792 627h4v1h-4zM1074 627h1v1h-1zM1084 627h2v1h-2zM1095 627h2v1h-2zM1106 627h2v1h-2zM68 628h1v1h-1zM72 628h2v1h-2zM185 628h1v1h-1zM230 628h10v1h-10zM250 628h2v1h-2zM257 628h1v1h-1zM462 628h1v1h-1zM716 628h1v1h-1zM750 628h1v1h-1zM790 628h2v1h-2zM1074 628h1v1h-1zM1083 628h1v1h-1zM1097 628h2v1h-2zM1105 628h1v1h-1zM69 629h1v1h-1zM71 629h1v1h-1zM186 629h2v1h-2zM229 629h1v1h-1zM252 629h2v1h-2zM255 629h2v1h-2zM717 629h1v1h-1zM749 629h1v1h-1zM751 629h2v1h-2zM789 629h1v1h-1zM1075 629h1v1h-1zM1082 629h1v1h-1zM1099 629h2v1h-2zM1103 629h2v1h-2zM70 630h1v1h-1zM188 630h2v1h-2zM229 630h1v1h-1zM254 630h1v1h-1zM717 630h1v1h-1zM748 630h1v1h-1zM753 630h2v1h-2zM789 630h1v1h-1zM1076 630h1v1h-1zM1080 630h2v1h-2zM1101 630h2v1h-2zM190 631h1v1h-1zM228 631h1v1h-1zM718 631h1v1h-1zM747 631h1v1h-1zM755 631h2v1h-2zM788 631h1v1h-1zM1077 631h1v1h-1zM1079 631h1v1h-1zM191 632h2v1h-2zM228 632h1v1h-1zM719 632h2v1h-2zM746 632h1v1h-1zM757 632h2v1h-2zM787 632h1v1h-1zM1078 632h1v1h-1zM193 633h1v1h-1zM227 633h1v1h-1zM721 633h2v1h-2zM732 633h4v1h-4zM745 633h1v1h-1zM759 633h2v1h-2zM786 633h1v1h-1zM194 634h2v1h-2zM227 634h1v1h-1zM723 634h2v1h-2zM728 634h4v1h-4zM736 634h2v1h-2zM744 634h1v1h-1zM761 634h2v1h-2zM786 634h1v1h-1zM196 635h2v1h-2zM226 635h1v1h-1zM725 635h3v1h-3zM738 635h3v1h-3zM743 635h1v1h-1zM763 635h2v1h-2zM785 635h1v1h-1zM198 636h2v1h-2zM226 636h1v1h-1zM741 636h2v1h-2zM765 636h3v1h-3zM784 636h1v1h-1zM200 637h4v1h-4zM225 637h1v1h-1zM768 637h4v1h-4zM783 637h1v1h-1zM204 638h4v1h-4zM225 638h1v1h-1zM772 638h6v1h-6zM783 638h1v1h-1zM208 639h2v1h-2zM224 639h1v1h-1zM778 639h5v1h-5zM210 640h3v1h-3zM224 640h1v1h-1zM213 641h3v1h-3zM223 641h1v1h-1zM216 642h4v1h-4zM223 642h1v1h-1zM220 643h3v1h-3z" fill="#1e90ff"/>
</g>
<g font-family='"Liberation Sans", Arial, sans-serif'>
<text transform="matrix(0.935 0 0 1 9.5 581)" fill="#000" stroke="#000" stroke-width="0.2" font-size="10" text-rendering="geometricPrecision">RSI(14) 52.6723</text>
<rect x="1194" y="569" width="1" height="1" fill="#000"/>
<text transform="matrix(0.915 0 0 1 1197.5 578.6)" fill="#000" stroke="#000" stroke-width="0.2" font-size="10" text-rendering="geometricPrecision">100</text>
<text transform="matrix(0.915 0 0 1 1196 603.6)" fill="#000" stroke="#000" stroke-width="0.2" font-size="10" text-rendering="geometricPrecision">70</text>
<text transform="matrix(0.915 0 0 1 1196 643.6)" fill="#000" stroke="#000" stroke-width="0.2" font-size="10" text-rendering="geometricPrecision">30</text>
<rect x="1194" y="668" width="1" height="1" fill="#000"/>
<text transform="matrix(0.915 0 0 1 1197.5 666)" fill="#000" stroke="#000" stroke-width="0.2" font-size="10" text-rendering="geometricPrecision">0</text>
</g>
<g font-family='"Liberation Sans", Arial, sans-serif'>
<rect x="6" y="670" width="1" height="3" fill="#000"/>
<text transform="matrix(0.95 0 0 1 4.7 682)" fill="#000" stroke="#000" stroke-width="0.2" font-size="10" text-rendering="geometricPrecision">19 Apr 2022</text>
<rect x="70" y="670" width="1" height="3" fill="#000"/>
<text transform="matrix(0.95 0 0 1 68.7 682)" fill="#000" stroke="#000" stroke-width="0.2" font-size="10" text-rendering="geometricPrecision">20 Apr 12:00</text>
<rect x="134" y="670" width="1" height="3" fill="#000"/>
<text transform="matrix(0.95 0 0 1 132.7 682)" fill="#000" stroke="#000" stroke-width="0.2" font-size="10" text-rendering="geometricPrecision">21 Apr 20:00</text>
<rect x="198" y="670" width="1" height="3" fill="#000"/>
<text transform="matrix(0.95 0 0 1 196.7 682)" fill="#000" stroke="#000" stroke-width="0.2" font-size="10" text-rendering="geometricPrecision">25 Apr 00:00</text>
<rect x="262" y="670" width="1" height="3" fill="#000"/>
<text transform="matrix(0.95 0 0 1 260.7 682)" fill="#000" stroke="#000" stroke-width="0.2" font-size="10" text-rendering="geometricPrecision">26 Apr 08:00</text>
<rect x="326" y="670" width="1" height="3" fill="#000"/>
<text transform="matrix(0.95 0 0 1 324.7 682)" fill="#000" stroke="#000" stroke-width="0.2" font-size="10" text-rendering="geometricPrecision">27 Apr 16:00</text>
<rect x="390" y="670" width="1" height="3" fill="#000"/>
<text transform="matrix(0.95 0 0 1 388.7 682)" fill="#000" stroke="#000" stroke-width="0.2" font-size="10" text-rendering="geometricPrecision">29 Apr 00:00</text>
<rect x="454" y="670" width="1" height="3" fill="#000"/>
<text transform="matrix(0.95 0 0 1 452.7 682)" fill="#000" stroke="#000" stroke-width="0.2" font-size="10" text-rendering="geometricPrecision">2 May 04:00</text>
<rect x="518" y="670" width="1" height="3" fill="#000"/>
<text transform="matrix(0.95 0 0 1 516.7 682)" fill="#000" stroke="#000" stroke-width="0.2" font-size="10" text-rendering="geometricPrecision">3 May 12:00</text>
<rect x="582" y="670" width="1" height="3" fill="#000"/>
<text transform="matrix(0.95 0 0 1 580.7 682)" fill="#000" stroke="#000" stroke-width="0.2" font-size="10" text-rendering="geometricPrecision">4 May 20:00</text>
<rect x="646" y="670" width="1" height="3" fill="#000"/>
<text transform="matrix(0.95 0 0 1 644.7 682)" fill="#000" stroke="#000" stroke-width="0.2" font-size="10" text-rendering="geometricPrecision">6 May 04:00</text>
<rect x="710" y="670" width="1" height="3" fill="#000"/>
<text transform="matrix(0.95 0 0 1 708.7 682)" fill="#000" stroke="#000" stroke-width="0.2" font-size="10" text-rendering="geometricPrecision">9 May 08:00</text>
<rect x="774" y="670" width="1" height="3" fill="#000"/>
<text transform="matrix(0.95 0 0 1 772.7 682)" fill="#000" stroke="#000" stroke-width="0.2" font-size="10" text-rendering="geometricPrecision">10 May 16:00</text>
<rect x="838" y="670" width="1" height="3" fill="#000"/>
<text transform="matrix(0.95 0 0 1 836.7 682)" fill="#000" stroke="#000" stroke-width="0.2" font-size="10" text-rendering="geometricPrecision">12 May 00:00</text>
<rect x="902" y="670" width="1" height="3" fill="#000"/>
<text transform="matrix(0.95 0 0 1 900.7 682)" fill="#000" stroke="#000" stroke-width="0.2" font-size="10" text-rendering="geometricPrecision">13 May 08:00</text>
<rect x="966" y="670" width="1" height="3" fill="#000"/>
<text transform="matrix(0.95 0 0 1 964.7 682)" fill="#000" stroke="#000" stroke-width="0.2" font-size="10" text-rendering="geometricPrecision">16 May 12:00</text>
<rect x="1030" y="670" width="1" height="3" fill="#000"/>
<text transform="matrix(0.95 0 0 1 1028.7 682)" fill="#000" stroke="#000" stroke-width="0.2" font-size="10" text-rendering="geometricPrecision">17 May 20:00</text>
<rect x="1094" y="670" width="1" height="3" fill="#000"/>
<text transform="matrix(0.95 0 0 1 1092.7 682)" fill="#000" stroke="#000" stroke-width="0.2" font-size="10" text-rendering="geometricPrecision">19 May 04:00</text>
<rect x="1158" y="670" width="1" height="3" fill="#000"/>
<text transform="matrix(0.95 0 0 1 1156.7 682)" fill="#000" stroke="#000" stroke-width="0.2" font-size="10" text-rendering="geometricPrecision">20 May 12:00</text>
</g>
</svg>
</body></html>
